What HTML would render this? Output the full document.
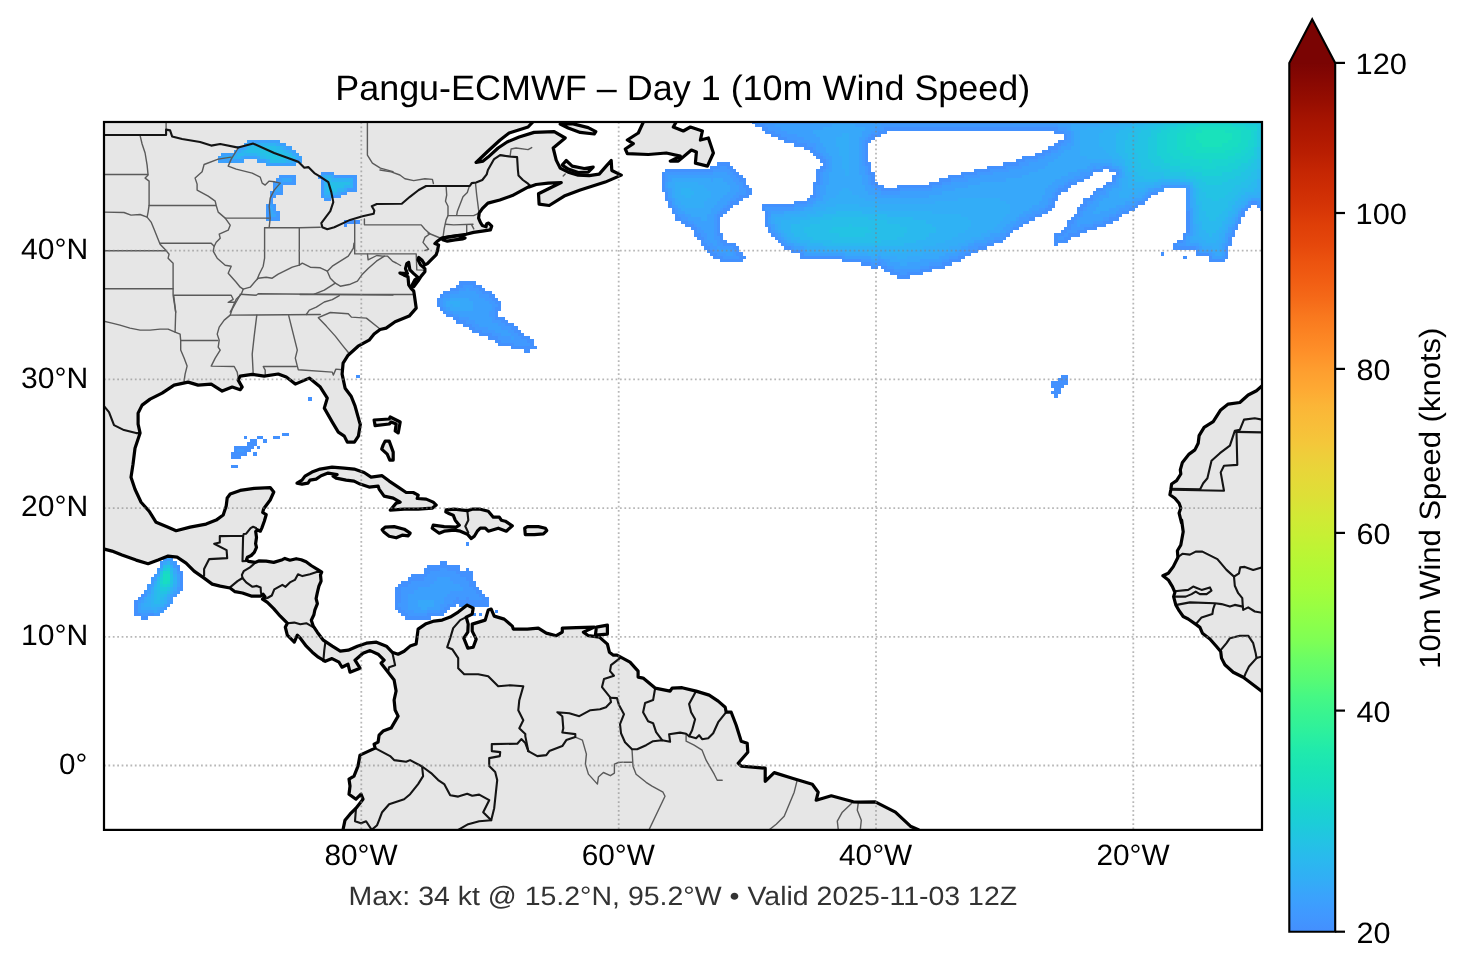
<!DOCTYPE html>
<html><head><meta charset="utf-8"><title>Pangu-ECMWF Day 1 10m Wind Speed</title>
<style>html,body{margin:0;padding:0;background:#fff;}body{width:1466px;height:969px;overflow:hidden;font-family:"Liberation Sans",sans-serif;}svg{display:block;will-change:transform;}text{font-family:"Liberation Sans",sans-serif;text-rendering:geometricPrecision;}</style>
</head><body>
<svg width="1466" height="969" viewBox="0 0 1466 969">
<defs>
<clipPath id="fc"><rect x="104.0" y="122.0" width="1158.0" height="707.9"/></clipPath>
<linearGradient id="cb" x1="0" y1="1" x2="0" y2="0"><stop offset="0.0000" stop-color="#448ffe"/><stop offset="0.0208" stop-color="#4099ff"/><stop offset="0.0417" stop-color="#3aa3fc"/><stop offset="0.0625" stop-color="#31aff5"/><stop offset="0.0833" stop-color="#2ab9ee"/><stop offset="0.1042" stop-color="#23c3e4"/><stop offset="0.1250" stop-color="#1ccdd8"/><stop offset="0.1458" stop-color="#19d5cd"/><stop offset="0.1667" stop-color="#18dec0"/><stop offset="0.1875" stop-color="#1ae4b6"/><stop offset="0.2083" stop-color="#20eaac"/><stop offset="0.2292" stop-color="#2cf09e"/><stop offset="0.2500" stop-color="#38f491"/><stop offset="0.2708" stop-color="#46f884"/><stop offset="0.2917" stop-color="#59fb73"/><stop offset="0.3125" stop-color="#69fd66"/><stop offset="0.3333" stop-color="#7dff56"/><stop offset="0.3542" stop-color="#8bff4b"/><stop offset="0.3750" stop-color="#99fe42"/><stop offset="0.3958" stop-color="#a7fc3a"/><stop offset="0.4167" stop-color="#b1f936"/><stop offset="0.4375" stop-color="#bcf534"/><stop offset="0.4583" stop-color="#c8ef34"/><stop offset="0.4792" stop-color="#d2e935"/><stop offset="0.5000" stop-color="#dde037"/><stop offset="0.5208" stop-color="#e5d938"/><stop offset="0.5417" stop-color="#ecd13a"/><stop offset="0.5625" stop-color="#f4c73a"/><stop offset="0.5833" stop-color="#f8be39"/><stop offset="0.6042" stop-color="#fbb637"/><stop offset="0.6250" stop-color="#fea933"/><stop offset="0.6458" stop-color="#fe9e2f"/><stop offset="0.6667" stop-color="#fe9029"/><stop offset="0.6875" stop-color="#fc8423"/><stop offset="0.7083" stop-color="#f9781e"/><stop offset="0.7292" stop-color="#f56918"/><stop offset="0.7500" stop-color="#f15d13"/><stop offset="0.7708" stop-color="#ec530f"/><stop offset="0.7917" stop-color="#e5470b"/><stop offset="0.8125" stop-color="#df3f08"/><stop offset="0.8333" stop-color="#d63506"/><stop offset="0.8542" stop-color="#ce2d04"/><stop offset="0.8750" stop-color="#c52603"/><stop offset="0.8958" stop-color="#b91e02"/><stop offset="0.9167" stop-color="#af1801"/><stop offset="0.9375" stop-color="#a41301"/><stop offset="0.9583" stop-color="#950d01"/><stop offset="0.9792" stop-color="#880802"/><stop offset="1.0000" stop-color="#7a0403"/></linearGradient>
</defs>
<rect width="1466" height="969" fill="#fff"/>
<g clip-path="url(#fc)">
<g fill="#e6e6e6" stroke="none">
<path d="M99.0,117.0 533.1,117.0 533.1,121.6 528.1,127.0 509.1,133.0 500.1,140.0 488.1,151.0 476.1,162.5 483.1,161.1 488.1,157.1 498.1,148.0 507.1,142.0 519.1,137.0 534.1,132.4 554.2,131.6 565.2,138.0 553.2,148.0 556.2,160.1 560.2,168.1 568.2,172.1 578.2,175.1 589.2,175.7 599.2,174.1 606.2,166.1 611.2,160.5 611.8,170.5 621.3,175.1 605.2,182.1 580.2,190.1 564.2,196.1 549.2,205.5 539.1,204.1 538.5,193.7 561.2,182.5 548.2,183.1 536.1,184.5 529.1,187.1 529.8,186.2 512.3,195.6 499.8,200.0 487.9,203.1 482.3,208.7 479.2,213.1 478.6,218.1 480.4,222.4 482.3,225.5 486.1,226.8 486.7,223.7 488.6,223.1 491.7,226.2 490.4,229.9 482.3,231.2 473.6,232.4 466.1,234.3 457.4,235.5 448.6,236.8 441.7,238.0 437.4,241.2 434.9,243.6 438.6,244.9 437.4,251.1 436.1,254.9 431.1,259.9 427.4,263.6 424.9,264.9 421.8,259.9 418.7,257.4 418.0,259.9 420.5,264.9 424.9,268.6 424.9,271.7 421.2,276.1 418.0,281.1 413.7,286.7 411.2,286.7 414.9,279.8 418.0,277.4 413.7,273.6 409.9,269.9 408.7,262.4 406.8,263.6 405.5,268.6 407.4,273.6 399.9,273.0 403.7,274.9 408.0,276.7 408.7,284.8 411.2,288.6 413.7,291.0 414.2,294.1 416.2,308.1 409.2,316.1 395.1,321.7 386.1,328.1 380.1,329.5 374.1,334.1 369.1,340.2 358.1,346.2 348.1,355.2 343.1,363.2 342.1,374.2 345.1,388.2 351.1,396.2 355.1,406.2 360.1,424.1 360.4,424.1 358.4,436.1 354.4,442.1 347.3,442.1 344.3,436.1 338.3,432.1 332.3,422.1 324.3,408.1 327.3,398.1 320.3,387.1 309.3,378.1 295.3,384.1 286.3,377.1 278.2,374.0 264.2,376.1 252.2,374.4 240.2,376.1 238.2,380.1 242.2,387.1 240.2,389.7 232.2,387.1 222.2,391.1 211.2,384.1 198.1,385.1 188.1,382.1 174.1,385.1 162.1,393.1 150.1,399.1 142.1,405.1 138.1,413.1 138.1,424.1 140.1,433.1 135.0,448.2 133.0,464.2 131.0,477.2 135.0,489.2 141.1,502.2 149.1,511.2 156.1,522.3 168.1,527.3 176.1,530.7 190.1,527.1 206.1,524.1 216.2,520.1 223.2,515.0 226.2,506.0 227.2,498.0 230.2,494.0 240.2,490.4 254.2,488.4 270.2,487.6 273.8,492.0 270.2,500.0 263.7,508.7 262.7,512.5 266.2,514.7 264.3,521.2 261.8,528.1 260.3,531.2 257.2,529.7 255.7,531.5 256.5,537.4 255.6,543.7 256.5,547.4 254.3,552.4 251.2,555.5 247.5,557.2 246.5,559.7 248.7,561.4 255.0,562.4 258.7,560.9 266.2,561.2 273.7,562.4 282.4,559.7 284.9,558.4 289.9,560.2 296.2,558.7 301.2,559.7 306.1,561.8 311.1,565.5 317.4,569.3 321.7,572.2 320.5,574.9 321.1,581.1 318.9,586.1 317.4,592.4 316.1,598.6 317.4,603.6 314.9,609.8 313.9,614.8 311.3,620.2 313.3,626.2 317.3,632.2 323.3,640.2 332.3,646.2 340.3,651.2 348.3,650.2 357.4,646.2 366.4,643.2 376.4,642.2 386.4,646.2 392.1,652.2 398.1,654.2 404.1,651.2 410.1,646.1 416.1,644.1 418.1,629.1 426.1,623.7 434.1,621.1 442.2,620.1 450.2,617.1 458.2,612.1 467.2,605.1 473.2,608.1 472.2,614.1 466.2,617.1 468.2,624.1 467.8,632.1 463.8,638.1 467.8,648.2 473.2,647.2 476.2,639.1 472.2,631.1 472.2,624.1 485.2,620.1 488.2,610.1 491.2,609.1 494.2,616.1 504.2,619.1 512.3,626.1 513.3,629.1 527.3,629.1 538.3,628.1 546.3,633.1 556.3,635.7 562.3,632.1 562.3,628.1 576.3,627.7 594.4,627.1 583.4,632.1 588.4,635.7 599.4,637.1 607.4,644.1 609.4,652.2 613.4,655.2 617.0,655.1 630.0,662.1 638.1,671.1 638.1,677.1 643.1,678.1 655.1,688.1 670.1,691.1 672.1,688.1 682.1,687.7 696.1,691.1 709.2,695.1 718.2,701.1 725.2,707.2 726.2,712.2 731.2,712.2 736.2,725.2 741.2,741.2 747.2,743.2 747.8,752.2 738.2,763.2 741.2,766.2 765.2,768.2 765.2,781.3 774.2,772.6 792.3,778.2 812.3,784.3 818.2,792.2 816.2,800.2 831.3,795.8 853.3,801.8 860.3,802.2 875.3,801.8 895.4,812.2 910.4,826.2 918.4,829.8 918.4,834.9 343.0,834.9 343.0,829.8 345.0,820.2 350.0,814.2 356.0,808.2 363.0,799.2 361.0,794.2 356.0,799.2 349.0,794.2 350.0,786.1 349.0,779.1 354.0,776.1 358.0,766.1 360.0,755.1 375.1,748.1 374.1,744.1 378.1,742.1 379.1,735.1 383.1,731.1 391.1,728.1 398.1,716.1 395.1,710.0 394.1,700.0 396.1,691.0 394.1,680.0 388.1,672.2 381.1,663.2 384.1,660.2 378.1,654.2 370.1,650.6 363.0,653.2 355.0,660.2 360.0,668.2 350.0,672.2 348.0,664.2 342.0,667.2 339.0,662.2 332.0,658.6 325.3,661.3 318.3,657.2 312.3,652.2 306.3,646.2 300.3,638.2 297.3,635.2 294.3,642.2 287.3,635.2 285.3,627.2 287.3,623.2 280.3,616.2 273.7,608.6 267.4,602.4 262.5,599.2 265.0,596.7 263.1,594.2 260.6,596.1 251.2,596.1 242.5,593.0 235.0,591.7 230.0,588.0 220.2,586.1 212.2,584.1 204.1,578.1 194.1,571.1 186.1,563.1 177.1,557.1 168.1,556.1 158.1,560.1 148.1,563.7 136.1,560.1 122.0,555.1 112.0,551.1 104.4,549.1 99.0,549.1Z"/>
<path d="M644.3,120.0 638.3,133.0 627.3,140.0 633.3,143.6 625.3,149.0 627.3,153.6 648.3,154.5 666.3,153.0 680.3,156.1 670.3,161.1 678.3,161.1 691.4,150.0 696.4,152.0 695.4,163.1 707.4,166.1 713.4,153.0 708.4,138.0 700.4,140.0 702.4,131.0 690.4,127.0 683.3,131.0 673.3,127.0 677.3,120.0Z"/>
<path d="M560.2,124.0 572.2,123.6 588.2,127.6 595.8,131.6 594.2,134.0 580.2,132.4 568.2,128.0Z"/>
<path d="M562.2,165.1 566.2,160.5 572.2,166.1 584.2,168.5 593.2,167.1 588.2,172.1 578.2,172.5 568.2,169.1Z"/>
<path d="M442.1,238.4 449.9,236.8 458.6,235.7 465.1,238.0 463.0,238.9 454.9,239.9 447.4,241.2 442.6,239.7Z"/>
<path d="M297.0,483.1 302.0,480.1 305.0,476.1 312.0,472.1 320.1,469.1 332.1,467.1 344.1,468.1 354.1,469.1 364.1,472.5 371.1,477.1 382.1,475.7 389.2,481.1 398.2,487.1 406.2,492.5 413.2,492.5 418.2,495.1 417.2,498.5 426.2,499.1 433.2,502.1 436.2,505.1 432.2,508.2 418.2,509.2 404.2,509.2 390.2,510.2 396.2,503.1 400.2,502.1 393.2,498.1 384.1,496.1 379.1,489.1 378.1,486.1 369.1,487.1 360.1,484.1 354.1,481.1 346.1,480.1 336.1,478.1 333.1,476.1 337.1,474.5 328.1,473.1 321.1,475.7 316.1,479.1 310.0,480.1 308.0,483.1 302.0,484.1Z"/>
<path d="M374.1,420.0 389.2,419.0 390.2,417.0 400.2,422.0 398.2,433.0 395.2,431.0 396.2,424.0 391.2,422.0 389.2,424.0 375.1,425.6Z"/>
<path d="M385.1,441.1 389.2,441.1 393.2,452.1 393.2,460.1 389.8,460.1 387.2,454.1 381.7,449.1 383.1,445.1Z"/>
<path d="M382.1,529.8 385.1,527.2 394.2,526.6 404.2,529.2 410.2,533.2 408.2,535.8 402.2,535.2 396.2,537.8 389.2,536.2 384.1,532.2Z"/>
<path d="M446.2,509.8 454.2,509.2 467.3,510.6 472.3,509.2 480.3,509.2 488.3,511.2 493.3,517.2 499.3,517.2 501.3,520.2 505.3,521.2 512.3,525.8 506.3,531.2 498.3,528.2 488.3,531.2 485.3,528.2 480.3,528.2 477.3,531.2 474.3,536.2 471.3,538.6 467.3,534.2 460.3,531.2 454.2,530.2 444.2,531.2 439.2,533.2 432.2,528.2 433.2,525.2 444.2,526.6 456.2,527.2 459.3,525.2 455.2,520.2 453.2,515.2 448.2,513.2 445.8,511.8Z"/>
<path d="M524.7,528.2 527.3,526.6 538.4,526.6 545.4,528.2 546.8,530.6 543.4,533.8 534.4,534.6 525.3,534.6Z"/>
<path d="M596.4,627.1 607.4,625.1 607.4,634.1 595.4,635.1Z"/>
<path d="M1263.1,385.0 1256.5,390.8 1248.2,395.0 1239.8,402.5 1228.2,404.1 1220.7,409.9 1213.2,421.6 1204.1,427.4 1199.1,435.7 1198.2,443.2 1194.9,449.9 1189.1,454.1 1182.4,462.4 1180.3,469.9 1180.8,474.0 1176.6,480.7 1171.6,484.0 1170.8,489.8 1169.9,494.8 1174.9,498.2 1179.1,503.2 1180.8,508.1 1179.1,513.1 1181.6,523.1 1181.6,520.0 1183.2,531.7 1180.8,545.0 1177.4,550.8 1177.9,557.5 1173.3,566.6 1168.3,573.3 1162.9,575.8 1168.3,579.9 1172.4,586.6 1174.9,592.4 1173.6,596.6 1175.8,604.9 1179.1,610.7 1183.2,616.5 1188.2,619.0 1196.6,624.9 1199.9,627.4 1202.4,633.2 1209.9,639.0 1216.5,646.5 1220.7,651.5 1221.5,658.1 1224.9,664.8 1233.2,672.3 1243.2,677.3 1248.2,681.0 1263.1,692.3 1267.0,692.3 1267.0,385.0Z"/>
</g>
<g stroke="none" shape-rendering="crispEdges">
<path fill="#4391fe" d="M748.8,114.1H1270.2V120.8H748.8ZM752.0,120.5H1270.2V124.0H752.0ZM755.2,123.7H1270.2V127.2H755.2ZM761.7,126.9H1270.2V130.5H761.7ZM764.9,130.2H887.4V133.7H764.9ZM1054.4,130.2H1270.2V133.7H1054.4ZM771.3,133.4H881.0V136.9H771.3ZM777.7,136.6H874.5V140.1H777.7ZM1064.0,133.4H1270.2V140.1H1064.0ZM247.0,139.8H279.5V143.3H247.0ZM784.2,139.8H871.3V143.3H784.2ZM1057.6,139.8H1270.2V143.3H1057.6ZM243.8,143.0H285.9V146.6H243.8ZM793.8,143.0H868.1V146.6H793.8ZM1054.4,143.0H1270.2V146.6H1054.4ZM237.3,146.3H292.3V149.8H237.3ZM803.5,146.3H868.1V149.8H803.5ZM1047.9,146.3H1270.2V149.8H1047.9ZM234.1,149.5H295.5V153.0H234.1ZM809.9,149.5H868.1V153.0H809.9ZM1041.5,149.5H1270.2V153.0H1041.5ZM221.3,152.7H298.8V156.2H221.3ZM813.1,152.7H868.1V156.2H813.1ZM1035.1,152.7H1270.2V156.2H1035.1ZM218.0,155.9H302.0V159.4H218.0ZM816.3,155.9H868.1V159.4H816.3ZM1022.2,155.9H1270.2V159.4H1022.2ZM218.0,159.1H244.1V162.6H218.0ZM256.6,159.1H302.0V162.6H256.6ZM819.6,159.1H868.1V162.6H819.6ZM1015.8,159.1H1270.2V162.6H1015.8ZM266.3,162.3H295.5V165.9H266.3ZM716.6,162.3H729.8V165.9H716.6ZM822.8,162.3H871.3V165.9H822.8ZM1002.9,162.3H1270.2V165.9H1002.9ZM710.2,165.6H733.0V169.1H710.2ZM819.6,165.6H871.3V169.1H819.6ZM986.8,165.6H1270.2V169.1H986.8ZM665.2,168.8H736.2V172.3H665.2ZM816.3,168.8H871.3V172.3H816.3ZM974.0,168.8H1102.9V172.3H974.0ZM1109.1,168.8H1270.2V172.3H1109.1ZM321.0,172.0H334.1V175.5H321.0ZM661.9,172.0H739.4V175.5H661.9ZM961.1,172.0H1093.3V175.5H961.1ZM1115.5,172.0H1270.2V175.5H1115.5ZM279.2,175.2H295.5V178.7H279.2ZM317.8,175.2H356.7V178.7H317.8ZM661.9,175.2H742.7V178.7H661.9ZM948.2,175.2H1090.1V178.7H948.2ZM275.9,178.4H295.5V181.9H275.9ZM816.3,172.0H874.5V181.9H816.3ZM938.6,178.4H1083.6V181.9H938.6ZM1112.3,175.2H1270.2V181.9H1112.3ZM272.7,181.6H295.5V185.2H272.7ZM661.9,178.4H745.9V185.2H661.9ZM813.1,181.6H877.8V185.2H813.1ZM928.9,181.6H1077.2V185.2H928.9ZM1105.8,181.6H1270.2V185.2H1105.8ZM661.9,184.9H749.1V188.4H661.9ZM813.1,184.9H884.2V188.4H813.1ZM896.8,184.9H1070.8V188.4H896.8ZM1102.6,184.9H1270.2V188.4H1102.6ZM272.7,184.9H282.7V191.6H272.7ZM321.0,178.4H356.7V191.6H321.0ZM661.9,188.1H752.3V191.6H661.9ZM813.1,188.1H1067.5V191.6H813.1ZM1096.2,188.1H1164.0V191.6H1096.2ZM269.5,191.3H282.7V194.8H269.5ZM321.0,191.3H347.0V194.8H321.0ZM665.2,191.3H752.3V194.8H665.2ZM813.1,191.3H1061.1V194.8H813.1ZM1093.0,191.3H1157.6V194.8H1093.0ZM269.5,194.5H276.2V198.0H269.5ZM321.0,194.5H340.6V198.0H321.0ZM665.2,194.5H749.1V198.0H665.2ZM809.9,194.5H1057.9V198.0H809.9ZM1089.8,194.5H1151.2V198.0H1089.8ZM324.2,197.7H330.9V201.3H324.2ZM665.2,197.7H742.7V201.3H665.2ZM806.7,197.7H1057.9V201.3H806.7ZM1083.3,197.7H1148.0V201.3H1083.3ZM269.5,197.7H273.0V204.5H269.5ZM668.4,201.0H739.4V204.5H668.4ZM793.8,201.0H1054.7V204.5H793.8ZM1083.3,201.0H1144.7V204.5H1083.3ZM1186.3,188.1H1270.2V204.5H1186.3ZM668.4,204.2H733.0V207.7H668.4ZM761.7,204.2H1054.7V207.7H761.7ZM1080.1,204.2H1138.3V207.7H1080.1ZM1186.3,204.2H1250.9V207.7H1186.3ZM1257.0,204.2H1270.2V207.7H1257.0ZM266.3,204.2H276.2V210.9H266.3ZM671.6,207.4H729.8V210.9H671.6ZM761.7,207.4H1051.5V210.9H761.7ZM1076.9,207.4H1135.1V210.9H1076.9ZM1186.3,207.4H1247.7V210.9H1186.3ZM1260.2,207.4H1270.2V210.9H1260.2ZM671.6,210.6H726.6V214.1H671.6ZM764.9,210.6H1048.2V214.1H764.9ZM1076.9,210.6H1128.7V214.1H1076.9ZM674.8,213.8H723.4V217.3H674.8ZM764.9,213.8H1041.8V217.3H764.9ZM1073.7,213.8H1122.2V217.3H1073.7ZM1186.3,210.6H1244.5V217.3H1186.3ZM266.3,210.6H279.5V220.6H266.3ZM674.8,217.0H720.1V220.6H674.8ZM764.9,217.0H1035.4V220.6H764.9ZM1070.5,217.0H1119.0V220.6H1070.5ZM343.5,220.3H359.9V223.8H343.5ZM681.2,220.3H720.1V223.8H681.2ZM764.9,220.3H1028.9V223.8H764.9ZM1067.2,220.3H1112.6V223.8H1067.2ZM1186.3,217.0H1241.2V223.8H1186.3ZM343.5,223.5H347.0V227.0H343.5ZM684.5,223.5H720.1V227.0H684.5ZM764.9,223.5H1022.5V227.0H764.9ZM1067.2,223.5H1106.1V227.0H1067.2ZM690.9,226.7H720.1V230.2H690.9ZM768.1,226.7H1019.3V230.2H768.1ZM1064.0,226.7H1096.5V230.2H1064.0ZM1186.3,223.5H1238.0V230.2H1186.3ZM694.1,229.9H720.1V233.4H694.1ZM768.1,229.9H1012.9V233.4H768.1ZM1060.8,229.9H1086.8V233.4H1060.8ZM1186.3,229.9H1234.8V233.4H1186.3ZM694.1,233.1H723.4V236.7H694.1ZM771.3,233.1H1009.6V236.7H771.3ZM1054.4,233.1H1080.4V236.7H1054.4ZM1183.0,233.1H1234.8V236.7H1183.0ZM697.3,236.4H723.4V239.9H697.3ZM774.5,236.4H1006.4V239.9H774.5ZM1054.4,236.4H1070.8V239.9H1054.4ZM1183.0,236.4H1231.6V239.9H1183.0ZM700.5,239.6H726.6V243.1H700.5ZM777.7,239.6H1003.2V243.1H777.7ZM1054.4,239.6H1067.5V243.1H1054.4ZM1176.6,239.6H1231.6V243.1H1176.6ZM700.5,242.8H736.2V246.3H700.5ZM781.0,242.8H993.6V246.3H781.0ZM1054.4,242.8H1057.9V246.3H1054.4ZM1173.4,242.8H1231.6V246.3H1173.4ZM703.8,246.0H739.4V249.5H703.8ZM784.2,246.0H987.1V249.5H784.2ZM1173.4,246.0H1228.4V249.5H1173.4ZM707.0,249.2H739.4V252.7H707.0ZM790.6,249.2H977.5V252.7H790.6ZM710.2,252.4H742.7V256.0H710.2ZM800.3,252.4H971.0V256.0H800.3ZM1160.5,252.4H1164.0V256.0H1160.5ZM1195.9,249.2H1228.4V256.0H1195.9ZM713.4,255.7H745.9V259.2H713.4ZM800.3,255.7H964.6V259.2H800.3ZM1183.0,255.7H1186.6V259.2H1183.0ZM1208.8,255.7H1228.4V259.2H1208.8ZM719.8,258.9H742.7V262.4H719.8ZM842.1,258.9H961.4V262.4H842.1ZM1208.8,258.9H1225.2V262.4H1208.8ZM861.4,262.1H951.7V265.6H861.4ZM871.0,265.3H877.8V268.8H871.0ZM880.7,265.3H945.3V268.8H880.7ZM883.9,268.5H932.4V272.0H883.9ZM890.3,271.7H922.8V275.3H890.3ZM896.8,275.0H909.9V278.5H896.8ZM459.3,281.4H475.7V284.9H459.3ZM456.1,284.6H482.1V288.1H456.1ZM449.6,287.8H485.3V291.4H449.6ZM443.2,291.1H491.8V294.6H443.2ZM440.0,294.3H495.0V297.8H440.0ZM436.8,297.5H498.2V301.0H436.8ZM436.8,300.7H501.4V307.4H436.8ZM440.0,307.1H501.4V310.7H440.0ZM443.2,310.4H498.2V313.9H443.2ZM446.4,313.6H498.2V317.1H446.4ZM452.9,316.8H504.6V320.3H452.9ZM456.1,320.0H507.8V323.5H456.1ZM462.5,323.2H514.3V326.7H462.5ZM468.9,326.4H517.5V330.0H468.9ZM472.2,329.7H520.7V333.2H472.2ZM478.6,332.9H523.9V336.4H478.6ZM488.2,336.1H530.4V339.6H488.2ZM494.7,339.3H533.6V342.8H494.7ZM497.9,342.5H533.6V346.1H497.9ZM510.8,345.8H536.8V349.3H510.8ZM523.6,349.0H530.4V352.5H523.6ZM356.4,374.7H359.9V378.2H356.4ZM1060.8,374.7H1067.5V378.2H1060.8ZM1057.6,377.9H1067.5V381.4H1057.6ZM1051.2,381.1H1067.5V384.7H1051.2ZM1051.2,384.4H1064.3V387.9H1051.2ZM1054.4,387.6H1061.1V391.1H1054.4ZM1051.2,390.8H1061.1V394.3H1051.2ZM1054.4,394.0H1057.9V397.5H1054.4ZM308.1,397.2H311.6V400.8H308.1ZM282.4,432.6H289.1V436.2H282.4ZM243.8,435.9H247.3V439.4H243.8ZM256.6,435.9H263.4V439.4H256.6ZM272.7,435.9H279.5V439.4H272.7ZM250.2,439.1H256.9V442.6H250.2ZM263.1,439.1H266.6V442.6H263.1ZM247.0,442.3H256.9V445.8H247.0ZM234.1,445.5H253.7V449.0H234.1ZM256.6,445.5H260.2V449.0H256.6ZM234.1,448.7H250.5V452.2H234.1ZM230.9,451.9H247.3V455.5H230.9ZM253.4,451.9H256.9V455.5H253.4ZM230.9,455.2H240.9V458.7H230.9ZM230.9,464.8H237.6V468.3H230.9ZM465.7,542.0H469.2V545.6H465.7ZM166.6,554.9H170.1V558.4H166.6ZM163.4,558.1H173.3V561.6H163.4ZM160.1,561.3H176.5V564.9H160.1ZM440.0,561.3H446.7V564.9H440.0ZM160.1,564.6H179.7V568.1H160.1ZM427.1,564.6H459.6V568.1H427.1ZM156.9,567.8H179.7V571.3H156.9ZM423.9,567.8H459.6V571.3H423.9ZM465.7,567.8H469.2V571.3H465.7ZM156.9,571.0H183.0V574.5H156.9ZM423.9,571.0H472.5V574.5H423.9ZM153.7,574.2H183.0V577.7H153.7ZM411.0,574.2H472.5V577.7H411.0ZM407.8,577.4H472.5V580.9H407.8ZM150.5,577.4H183.0V584.2H150.5ZM401.4,580.6H475.7V584.2H401.4ZM398.2,583.9H475.7V587.4H398.2ZM147.3,583.9H183.0V590.6H147.3ZM395.0,587.1H478.9V590.6H395.0ZM144.1,590.3H179.7V593.8H144.1ZM395.0,590.3H482.1V593.8H395.0ZM140.8,593.5H176.5V597.0H140.8ZM395.0,593.5H485.3V597.0H395.0ZM137.6,596.7H173.3V600.3H137.6ZM134.4,600.0H173.3V603.5H134.4ZM395.0,596.7H488.5V603.5H395.0ZM134.4,603.2H170.1V606.7H134.4ZM395.0,603.2H456.4V606.7H395.0ZM459.3,603.2H466.0V606.7H459.3ZM468.9,603.2H488.5V606.7H468.9ZM134.4,606.4H166.9V609.9H134.4ZM395.0,606.4H449.9V609.9H395.0ZM134.4,609.6H163.7V613.1H134.4ZM398.2,609.6H446.7V613.1H398.2ZM494.7,609.6H498.2V613.1H494.7ZM134.4,612.8H160.4V616.3H134.4ZM401.4,612.8H443.5V616.3H401.4ZM472.2,612.8H475.7V616.3H472.2ZM478.6,612.8H482.1V616.3H478.6ZM140.8,616.0H147.6V619.6H140.8ZM404.6,616.0H430.6V619.6H404.6Z"/>
<path fill="#4099ff" d="M1121.9,114.1H1270.2V117.6H1121.9ZM755.2,117.3H1270.2V120.8H755.2ZM758.4,120.5H1270.2V124.0H758.4ZM764.9,123.7H1270.2V127.2H764.9ZM768.1,126.9H884.2V130.5H768.1ZM1057.6,126.9H1270.2V130.5H1057.6ZM774.5,130.2H877.8V133.7H774.5ZM1064.0,130.2H1270.2V133.7H1064.0ZM781.0,133.4H871.3V136.9H781.0ZM787.4,136.6H868.1V140.1H787.4ZM1067.2,133.4H1270.2V140.1H1067.2ZM247.0,139.8H279.5V143.3H247.0ZM797.0,139.8H864.9V143.3H797.0ZM1064.0,139.8H1270.2V143.3H1064.0ZM243.8,143.0H285.9V146.6H243.8ZM806.7,143.0H864.9V146.6H806.7ZM1060.8,143.0H1270.2V146.6H1060.8ZM237.3,146.3H292.3V149.8H237.3ZM813.1,146.3H864.9V149.8H813.1ZM1057.6,146.3H1270.2V149.8H1057.6ZM234.1,149.5H295.5V153.0H234.1ZM816.3,149.5H864.9V153.0H816.3ZM1051.2,149.5H1270.2V153.0H1051.2ZM221.3,152.7H298.8V156.2H221.3ZM819.6,152.7H864.9V156.2H819.6ZM1044.7,152.7H1270.2V156.2H1044.7ZM218.0,155.9H302.0V159.4H218.0ZM822.8,155.9H864.9V159.4H822.8ZM1038.3,155.9H1270.2V159.4H1038.3ZM218.0,159.1H244.1V162.6H218.0ZM256.6,159.1H302.0V162.6H256.6ZM1025.4,159.1H1270.2V162.6H1025.4ZM266.3,162.3H295.5V165.9H266.3ZM826.0,159.1H864.9V165.9H826.0ZM1019.0,162.3H1270.2V165.9H1019.0ZM719.8,165.6H726.6V169.1H719.8ZM826.0,165.6H868.1V169.1H826.0ZM1006.1,165.6H1102.9V169.1H1006.1ZM1109.1,165.6H1270.2V169.1H1109.1ZM713.4,168.8H729.8V172.3H713.4ZM822.8,168.8H868.1V172.3H822.8ZM990.0,168.8H1093.3V172.3H990.0ZM1115.5,168.8H1270.2V172.3H1115.5ZM321.0,172.0H334.1V175.5H321.0ZM665.2,172.0H733.0V175.5H665.2ZM819.6,172.0H868.1V175.5H819.6ZM977.2,172.0H1090.1V175.5H977.2ZM1118.7,172.0H1270.2V175.5H1118.7ZM279.2,175.2H295.5V178.7H279.2ZM317.8,175.2H356.7V178.7H317.8ZM665.2,175.2H736.2V178.7H665.2ZM964.3,175.2H1083.6V178.7H964.3ZM275.9,178.4H295.5V181.9H275.9ZM665.2,178.4H739.4V181.9H665.2ZM951.4,178.4H1077.2V181.9H951.4ZM1115.5,175.2H1270.2V181.9H1115.5ZM272.7,181.6H295.5V185.2H272.7ZM819.6,175.2H871.3V185.2H819.6ZM941.8,181.6H1067.5V185.2H941.8ZM1112.3,181.6H1270.2V185.2H1112.3ZM665.2,181.6H742.7V188.4H665.2ZM816.3,184.9H874.5V188.4H816.3ZM932.1,184.9H1064.3V188.4H932.1ZM1105.8,184.9H1267.0V188.4H1105.8ZM272.7,184.9H282.7V191.6H272.7ZM321.0,178.4H356.7V191.6H321.0ZM665.2,188.1H745.9V191.6H665.2ZM816.3,188.1H881.0V191.6H816.3ZM900.0,188.1H1057.9V191.6H900.0ZM1102.6,188.1H1164.0V191.6H1102.6ZM269.5,191.3H282.7V194.8H269.5ZM321.0,191.3H347.0V194.8H321.0ZM668.4,191.3H745.9V194.8H668.4ZM1096.2,191.3H1151.2V194.8H1096.2ZM269.5,194.5H276.2V198.0H269.5ZM321.0,194.5H340.6V198.0H321.0ZM668.4,194.5H739.4V198.0H668.4ZM816.3,191.3H1054.7V198.0H816.3ZM1093.0,194.5H1148.0V198.0H1093.0ZM324.2,197.7H330.9V201.3H324.2ZM668.4,197.7H736.2V201.3H668.4ZM809.9,197.7H1051.5V201.3H809.9ZM1093.0,197.7H1144.7V201.3H1093.0ZM1186.3,188.1H1267.0V201.3H1186.3ZM269.5,197.7H273.0V204.5H269.5ZM671.6,201.0H729.8V204.5H671.6ZM806.7,201.0H1051.5V204.5H806.7ZM1086.5,201.0H1138.3V204.5H1086.5ZM1186.3,201.0H1250.9V204.5H1186.3ZM1257.0,201.0H1267.0V204.5H1257.0ZM671.6,204.2H726.6V207.7H671.6ZM793.8,204.2H1048.2V207.7H793.8ZM1086.5,204.2H1135.1V207.7H1086.5ZM1186.3,204.2H1247.7V207.7H1186.3ZM1260.2,204.2H1267.0V207.7H1260.2ZM266.3,204.2H276.2V210.9H266.3ZM674.8,207.4H723.4V210.9H674.8ZM764.9,207.4H1045.0V210.9H764.9ZM1083.3,207.4H1128.7V210.9H1083.3ZM1186.3,207.4H1244.5V210.9H1186.3ZM674.8,210.6H720.1V214.1H674.8ZM768.1,210.6H1041.8V214.1H768.1ZM1080.1,210.6H1122.2V214.1H1080.1ZM678.0,213.8H716.9V217.3H678.0ZM768.1,213.8H1035.4V217.3H768.1ZM1080.1,213.8H1115.8V217.3H1080.1ZM1189.5,210.6H1241.2V217.3H1189.5ZM266.3,210.6H279.5V220.6H266.3ZM681.2,217.0H716.9V220.6H681.2ZM768.1,217.0H1028.9V220.6H768.1ZM1076.9,217.0H1109.4V220.6H1076.9ZM687.7,220.3H716.9V223.8H687.7ZM768.1,220.3H1022.5V223.8H768.1ZM1073.7,220.3H1102.9V223.8H1073.7ZM1189.5,217.0H1238.0V223.8H1189.5ZM694.1,223.5H716.9V227.0H694.1ZM768.1,223.5H1019.3V227.0H768.1ZM1070.5,223.5H1093.3V227.0H1070.5ZM771.3,226.7H1012.9V230.2H771.3ZM1070.5,226.7H1083.6V230.2H1070.5ZM1189.5,223.5H1234.8V230.2H1189.5ZM697.3,226.7H716.9V233.4H697.3ZM771.3,229.9H1009.6V233.4H771.3ZM1067.2,229.9H1077.2V233.4H1067.2ZM1189.5,229.9H1231.6V233.4H1189.5ZM700.5,233.1H716.9V236.7H700.5ZM774.5,233.1H1006.4V236.7H774.5ZM1064.0,233.1H1067.5V236.7H1064.0ZM1186.3,233.1H1231.6V236.7H1186.3ZM777.7,236.4H1003.2V239.9H777.7ZM1057.6,236.4H1064.3V239.9H1057.6ZM1186.3,236.4H1228.4V239.9H1186.3ZM703.8,236.4H720.1V243.1H703.8ZM781.0,239.6H993.6V243.1H781.0ZM1183.0,239.6H1228.4V243.1H1183.0ZM707.0,242.8H723.4V246.3H707.0ZM784.2,242.8H987.1V246.3H784.2ZM1176.6,242.8H1228.4V246.3H1176.6ZM710.2,246.0H733.0V249.5H710.2ZM790.6,246.0H977.5V249.5H790.6ZM1195.9,246.0H1225.2V249.5H1195.9ZM713.4,249.2H736.2V252.7H713.4ZM800.3,249.2H971.0V252.7H800.3ZM1199.1,249.2H1225.2V252.7H1199.1ZM716.6,252.4H736.2V256.0H716.6ZM803.5,252.4H964.6V256.0H803.5ZM1208.8,252.4H1225.2V256.0H1208.8ZM723.1,255.7H739.4V259.2H723.1ZM842.1,255.7H958.2V259.2H842.1ZM1212.0,255.7H1225.2V259.2H1212.0ZM861.4,258.9H948.5V262.4H861.4ZM871.0,262.1H877.8V265.6H871.0ZM880.7,262.1H942.1V265.6H880.7ZM887.1,265.3H929.2V268.8H887.1ZM893.5,268.5H919.6V272.0H893.5ZM900.0,271.7H906.7V275.3H900.0ZM462.5,284.6H472.5V288.1H462.5ZM459.3,287.8H478.9V291.4H459.3ZM449.6,291.1H482.1V294.6H449.6ZM443.2,294.3H488.5V297.8H443.2ZM440.0,297.5H491.8V301.0H440.0ZM440.0,300.7H495.0V304.2H440.0ZM440.0,303.9H498.2V307.4H440.0ZM443.2,307.1H495.0V310.7H443.2ZM446.4,310.4H495.0V313.9H446.4ZM452.9,313.6H495.0V317.1H452.9ZM459.3,316.8H495.0V320.3H459.3ZM465.7,320.0H501.4V323.5H465.7ZM472.2,323.2H504.6V326.7H472.2ZM475.4,326.4H511.1V330.0H475.4ZM481.8,329.7H514.3V333.2H481.8ZM491.5,332.9H517.5V336.4H491.5ZM497.9,336.1H520.7V339.6H497.9ZM501.1,339.3H527.1V342.8H501.1ZM514.0,342.5H530.4V346.1H514.0ZM237.3,448.7H244.1V452.2H237.3ZM166.6,554.9H170.1V558.4H166.6ZM163.4,558.1H173.3V561.6H163.4ZM160.1,561.3H176.5V568.1H160.1ZM156.9,567.8H176.5V571.3H156.9ZM440.0,567.8H446.7V571.3H440.0ZM156.9,571.0H179.7V574.5H156.9ZM430.3,571.0H456.4V574.5H430.3ZM153.7,574.2H179.7V577.7H153.7ZM427.1,574.2H459.6V577.7H427.1ZM423.9,577.4H466.0V580.9H423.9ZM150.5,577.4H179.7V584.2H150.5ZM411.0,580.6H469.2V584.2H411.0ZM407.8,583.9H469.2V587.4H407.8ZM147.3,583.9H179.7V590.6H147.3ZM401.4,587.1H472.5V590.6H401.4ZM144.1,590.3H179.7V593.8H144.1ZM401.4,590.3H475.7V593.8H401.4ZM144.1,593.5H176.5V597.0H144.1ZM401.4,593.5H478.9V597.0H401.4ZM140.8,596.7H173.3V600.3H140.8ZM401.4,596.7H456.4V600.3H401.4ZM459.3,596.7H466.0V600.3H459.3ZM468.9,596.7H482.1V600.3H468.9ZM137.6,600.0H173.3V603.5H137.6ZM401.4,600.0H453.2V603.5H401.4ZM137.6,603.2H170.1V606.7H137.6ZM398.2,603.2H446.7V606.7H398.2ZM137.6,606.4H166.9V609.9H137.6ZM401.4,606.4H443.5V609.9H401.4ZM137.6,609.6H163.7V613.1H137.6ZM404.6,609.6H440.3V613.1H404.6ZM140.8,612.8H147.6V616.3H140.8ZM153.7,612.8H160.4V616.3H153.7ZM407.8,612.8H427.4V616.3H407.8Z"/>
<path fill="#3ba0fd" d="M1176.6,114.1H1257.3V117.6H1176.6ZM1089.8,117.3H1267.0V120.8H1089.8ZM813.1,120.5H877.8V124.0H813.1ZM1012.6,120.5H1267.0V124.0H1012.6ZM774.5,123.7H881.0V127.2H774.5ZM1057.6,123.7H1267.0V127.2H1057.6ZM781.0,126.9H874.5V130.5H781.0ZM1067.2,126.9H1267.0V130.5H1067.2ZM787.4,130.2H871.3V133.7H787.4ZM797.0,133.4H868.1V136.9H797.0ZM803.5,136.6H864.9V140.1H803.5ZM247.0,139.8H279.5V143.3H247.0ZM809.9,139.8H861.7V143.3H809.9ZM1070.5,130.2H1267.0V143.3H1070.5ZM243.8,143.0H285.9V146.6H243.8ZM1067.2,143.0H1267.0V146.6H1067.2ZM237.3,146.3H292.3V149.8H237.3ZM816.3,143.0H861.7V149.8H816.3ZM1060.8,146.3H1267.0V149.8H1060.8ZM234.1,149.5H295.5V153.0H234.1ZM819.6,149.5H861.7V153.0H819.6ZM1057.6,149.5H1267.0V153.0H1057.6ZM221.3,152.7H298.8V156.2H221.3ZM822.8,152.7H861.7V156.2H822.8ZM1051.2,152.7H1267.0V156.2H1051.2ZM218.0,155.9H302.0V159.4H218.0ZM826.0,155.9H861.7V159.4H826.0ZM1044.7,155.9H1267.0V159.4H1044.7ZM218.0,159.1H244.1V162.6H218.0ZM256.6,159.1H302.0V162.6H256.6ZM1038.3,159.1H1267.0V162.6H1038.3ZM266.3,162.3H295.5V165.9H266.3ZM829.2,159.1H861.7V165.9H829.2ZM1028.6,162.3H1267.0V165.9H1028.6ZM829.2,165.6H864.9V169.1H829.2ZM1022.2,165.6H1093.3V169.1H1022.2ZM1096.2,165.6H1099.7V169.1H1096.2ZM1112.3,165.6H1267.0V169.1H1112.3ZM826.0,168.8H864.9V172.3H826.0ZM1009.3,168.8H1090.1V172.3H1009.3ZM713.4,172.0H726.6V175.5H713.4ZM822.8,172.0H864.9V175.5H822.8ZM993.3,172.0H1080.4V175.5H993.3ZM321.0,175.2H334.1V178.7H321.0ZM668.4,175.2H729.8V178.7H668.4ZM980.4,175.2H1074.0V178.7H980.4ZM1118.7,168.8H1267.0V178.7H1118.7ZM279.2,178.4H292.3V181.9H279.2ZM668.4,178.4H733.0V181.9H668.4ZM967.5,178.4H1067.5V181.9H967.5ZM275.9,181.6H282.7V185.2H275.9ZM665.2,181.6H736.2V185.2H665.2ZM822.8,175.2H868.1V185.2H822.8ZM951.4,181.6H1064.3V185.2H951.4ZM1115.5,178.4H1267.0V185.2H1115.5ZM324.2,178.4H353.4V188.4H324.2ZM665.2,184.9H739.4V188.4H665.2ZM819.6,184.9H871.3V188.4H819.6ZM941.8,184.9H1057.9V188.4H941.8ZM1112.3,184.9H1160.8V188.4H1112.3ZM1186.3,184.9H1267.0V188.4H1186.3ZM275.9,184.9H279.5V191.6H275.9ZM324.2,188.1H347.0V191.6H324.2ZM668.4,188.1H739.4V191.6H668.4ZM819.6,188.1H874.5V191.6H819.6ZM932.1,188.1H1054.7V191.6H932.1ZM1105.8,188.1H1154.4V191.6H1105.8ZM272.7,191.3H276.2V194.8H272.7ZM324.2,191.3H340.6V194.8H324.2ZM668.4,191.3H736.2V194.8H668.4ZM819.6,191.3H881.0V194.8H819.6ZM900.0,191.3H1051.5V194.8H900.0ZM1105.8,191.3H1148.0V194.8H1105.8ZM324.2,194.5H330.9V198.0H324.2ZM668.4,194.5H733.0V198.0H668.4ZM819.6,194.5H1051.5V198.0H819.6ZM1099.4,194.5H1144.7V198.0H1099.4ZM671.6,197.7H729.8V201.3H671.6ZM816.3,197.7H1048.2V201.3H816.3ZM1096.2,197.7H1141.5V201.3H1096.2ZM1189.5,188.1H1267.0V201.3H1189.5ZM671.6,201.0H726.6V204.5H671.6ZM813.1,201.0H1048.2V204.5H813.1ZM1093.0,201.0H1135.1V204.5H1093.0ZM1189.5,201.0H1247.7V204.5H1189.5ZM1260.2,201.0H1267.0V204.5H1260.2ZM674.8,204.2H723.4V207.7H674.8ZM806.7,204.2H1045.0V207.7H806.7ZM1089.8,204.2H1125.4V207.7H1089.8ZM1189.5,204.2H1244.5V207.7H1189.5ZM1263.5,204.2H1267.0V207.7H1263.5ZM269.5,204.2H273.0V210.9H269.5ZM678.0,207.4H720.1V210.9H678.0ZM793.8,207.4H1038.6V210.9H793.8ZM1086.5,207.4H1119.0V210.9H1086.5ZM678.0,210.6H716.9V214.1H678.0ZM771.3,210.6H1032.2V214.1H771.3ZM1083.3,210.6H1115.8V214.1H1083.3ZM1189.5,207.4H1241.2V214.1H1189.5ZM269.5,210.6H276.2V217.3H269.5ZM684.5,213.8H713.7V217.3H684.5ZM771.3,213.8H1025.7V217.3H771.3ZM1083.3,213.8H1109.4V217.3H1083.3ZM687.7,217.0H713.7V220.6H687.7ZM768.1,217.0H1019.3V220.6H768.1ZM1080.1,217.0H1102.9V220.6H1080.1ZM1189.5,213.8H1238.0V220.6H1189.5ZM694.1,220.3H713.7V223.8H694.1ZM768.1,220.3H1016.1V223.8H768.1ZM1076.9,220.3H1093.3V223.8H1076.9ZM697.3,223.5H713.7V227.0H697.3ZM771.3,223.5H1012.9V227.0H771.3ZM1076.9,223.5H1080.4V227.0H1076.9ZM1189.5,220.3H1234.8V227.0H1189.5ZM700.5,226.7H713.7V230.2H700.5ZM771.3,226.7H1009.6V230.2H771.3ZM703.8,229.9H713.7V233.4H703.8ZM774.5,229.9H1006.4V233.4H774.5ZM1189.5,226.7H1231.6V233.4H1189.5ZM777.7,233.1H1000.0V236.7H777.7ZM1189.5,233.1H1228.4V236.7H1189.5ZM707.0,233.1H713.7V239.9H707.0ZM781.0,236.4H993.6V239.9H781.0ZM710.2,239.6H716.9V243.1H710.2ZM784.2,239.6H987.1V243.1H784.2ZM1186.3,236.4H1228.4V243.1H1186.3ZM713.4,242.8H716.9V246.3H713.4ZM787.4,242.8H974.3V246.3H787.4ZM1186.3,242.8H1225.2V246.3H1186.3ZM716.6,246.0H720.1V249.5H716.6ZM793.8,246.0H967.8V249.5H793.8ZM719.8,249.2H729.8V252.7H719.8ZM803.5,249.2H961.4V252.7H803.5ZM1199.1,246.0H1225.2V252.7H1199.1ZM726.3,252.4H733.0V256.0H726.3ZM803.5,252.4H958.2V256.0H803.5ZM1212.0,252.4H1225.2V256.0H1212.0ZM845.3,255.7H948.5V259.2H845.3ZM1212.0,255.7H1221.9V259.2H1212.0ZM871.0,258.9H877.8V262.4H871.0ZM883.9,258.9H942.1V262.4H883.9ZM887.1,262.1H929.2V265.6H887.1ZM893.5,265.3H919.6V268.8H893.5ZM465.7,287.8H469.2V291.4H465.7ZM459.3,291.1H475.7V294.6H459.3ZM449.6,294.3H478.9V297.8H449.6ZM443.2,297.5H485.3V301.0H443.2ZM443.2,300.7H488.5V304.2H443.2ZM443.2,303.9H491.8V307.4H443.2ZM446.4,307.1H491.8V310.7H446.4ZM452.9,310.4H488.5V313.9H452.9ZM459.3,313.6H488.5V317.1H459.3ZM468.9,316.8H491.8V320.3H468.9ZM475.4,320.0H491.8V323.5H475.4ZM478.6,323.2H498.2V326.7H478.6ZM488.2,326.4H501.4V330.0H488.2ZM494.7,329.7H507.8V333.2H494.7ZM501.1,332.9H511.1V336.4H501.1ZM510.8,336.1H514.3V339.6H510.8ZM166.6,558.1H170.1V561.6H166.6ZM163.4,561.3H173.3V564.9H163.4ZM160.1,564.6H173.3V568.1H160.1ZM160.1,567.8H176.5V571.3H160.1ZM156.9,571.0H176.5V574.5H156.9ZM156.9,574.2H179.7V577.7H156.9ZM436.8,577.4H449.9V580.9H436.8ZM153.7,577.4H179.7V584.2H153.7ZM433.6,580.6H453.2V584.2H433.6ZM150.5,583.9H179.7V587.4H150.5ZM430.3,583.9H459.6V587.4H430.3ZM150.5,587.1H176.5V590.6H150.5ZM417.5,587.1H462.8V590.6H417.5ZM147.3,590.3H176.5V593.8H147.3ZM414.3,590.3H449.9V593.8H414.3ZM147.3,593.5H173.3V597.0H147.3ZM407.8,593.5H446.7V597.0H407.8ZM144.1,596.7H170.1V600.3H144.1ZM140.8,600.0H170.1V603.5H140.8ZM407.8,596.7H443.5V603.5H407.8ZM137.6,603.2H166.9V606.7H137.6ZM137.6,606.4H163.7V609.9H137.6ZM407.8,603.2H440.3V609.9H407.8ZM137.6,609.6H160.4V613.1H137.6ZM414.3,609.6H427.4V613.1H414.3Z"/>
<path fill="#37a8fa" d="M1128.4,117.3H1267.0V120.8H1128.4ZM1089.8,120.5H1267.0V124.0H1089.8ZM832.4,123.7H855.2V127.2H832.4ZM822.8,126.9H864.9V130.5H822.8ZM1070.5,123.7H1267.0V130.5H1070.5ZM813.1,130.2H861.7V133.7H813.1ZM816.3,133.4H861.7V136.9H816.3ZM819.6,136.6H858.5V143.3H819.6ZM247.0,143.0H279.5V146.6H247.0ZM822.8,143.0H858.5V146.6H822.8ZM1073.7,130.2H1267.0V146.6H1073.7ZM243.8,146.3H285.9V149.8H243.8ZM1070.5,146.3H1267.0V149.8H1070.5ZM237.3,149.5H292.3V153.0H237.3ZM826.0,146.3H858.5V153.0H826.0ZM1064.0,149.5H1267.0V153.0H1064.0ZM234.1,152.7H295.5V156.2H234.1ZM829.2,152.7H858.5V156.2H829.2ZM1060.8,152.7H1267.0V156.2H1060.8ZM221.3,155.9H244.1V159.4H221.3ZM256.6,155.9H298.8V159.4H256.6ZM1057.6,155.9H1267.0V159.4H1057.6ZM266.3,159.1H295.5V162.6H266.3ZM1054.4,159.1H1267.0V162.6H1054.4ZM1047.9,162.3H1090.1V165.9H1047.9ZM1112.3,162.3H1267.0V165.9H1112.3ZM1044.7,165.6H1086.8V169.1H1044.7ZM1118.7,165.6H1267.0V169.1H1118.7ZM832.4,155.9H858.5V172.3H832.4ZM1038.3,168.8H1077.2V172.3H1038.3ZM829.2,172.0H858.5V175.5H829.2ZM1028.6,172.0H1067.5V175.5H1028.6ZM321.0,175.2H334.1V178.7H321.0ZM1022.2,175.2H1061.1V178.7H1022.2ZM1121.9,168.8H1267.0V178.7H1121.9ZM282.4,178.4H292.3V181.9H282.4ZM671.6,178.4H710.5V181.9H671.6ZM713.4,178.4H723.4V181.9H713.4ZM1006.1,178.4H1054.7V181.9H1006.1ZM1118.7,178.4H1267.0V181.9H1118.7ZM668.4,181.6H726.6V185.2H668.4ZM829.2,175.2H861.7V185.2H829.2ZM980.4,181.6H1051.5V185.2H980.4ZM1118.7,181.6H1263.8V185.2H1118.7ZM324.2,178.4H353.4V188.4H324.2ZM668.4,184.9H729.8V188.4H668.4ZM967.5,184.9H1048.2V188.4H967.5ZM1118.7,184.9H1160.8V188.4H1118.7ZM275.9,184.9H279.5V191.6H275.9ZM324.2,188.1H347.0V191.6H324.2ZM671.6,188.1H729.8V191.6H671.6ZM826.0,184.9H864.9V191.6H826.0ZM954.7,188.1H1045.0V191.6H954.7ZM1112.3,188.1H1148.0V191.6H1112.3ZM324.2,191.3H340.6V194.8H324.2ZM671.6,191.3H726.6V194.8H671.6ZM826.0,191.3H868.1V194.8H826.0ZM941.8,191.3H1045.0V194.8H941.8ZM1109.1,191.3H1144.7V194.8H1109.1ZM324.2,194.5H330.9V198.0H324.2ZM671.6,194.5H723.4V198.0H671.6ZM822.8,194.5H874.5V198.0H822.8ZM928.9,194.5H1041.8V198.0H928.9ZM1109.1,194.5H1141.5V198.0H1109.1ZM1189.5,184.9H1263.8V198.0H1189.5ZM674.8,197.7H720.1V201.3H674.8ZM822.8,197.7H1041.8V201.3H822.8ZM1102.6,197.7H1131.9V201.3H1102.6ZM1189.5,197.7H1250.9V201.3H1189.5ZM1260.2,197.7H1263.8V201.3H1260.2ZM674.8,201.0H716.9V204.5H674.8ZM816.3,201.0H1038.6V204.5H816.3ZM1099.4,201.0H1125.4V204.5H1099.4ZM1189.5,201.0H1247.7V204.5H1189.5ZM678.0,204.2H713.7V207.7H678.0ZM813.1,204.2H1032.2V207.7H813.1ZM1099.4,204.2H1115.8V207.7H1099.4ZM1189.5,204.2H1244.5V207.7H1189.5ZM681.2,207.4H710.5V210.9H681.2ZM803.5,207.4H1028.9V210.9H803.5ZM1096.2,207.4H1109.4V210.9H1096.2ZM1192.7,207.4H1241.2V210.9H1192.7ZM269.5,207.4H273.0V214.1H269.5ZM684.5,210.6H710.5V214.1H684.5ZM784.2,210.6H1022.5V214.1H784.2ZM1093.0,210.6H1099.7V214.1H1093.0ZM269.5,213.8H276.2V217.3H269.5ZM690.9,213.8H707.3V217.3H690.9ZM771.3,213.8H1019.3V217.3H771.3ZM1192.7,210.6H1238.0V217.3H1192.7ZM700.5,217.0H707.3V220.6H700.5ZM771.3,217.0H1016.1V220.6H771.3ZM771.3,220.3H1009.6V223.8H771.3ZM1192.7,217.0H1234.8V223.8H1192.7ZM774.5,223.5H1006.4V227.0H774.5ZM1192.7,223.5H1231.6V227.0H1192.7ZM774.5,226.7H1003.2V230.2H774.5ZM777.7,229.9H1000.0V233.4H777.7ZM1192.7,226.7H1228.4V233.4H1192.7ZM781.0,233.1H990.3V236.7H781.0ZM1192.7,233.1H1225.2V236.7H1192.7ZM784.2,236.4H983.9V239.9H784.2ZM787.4,239.6H974.3V243.1H787.4ZM1189.5,236.4H1225.2V243.1H1189.5ZM793.8,242.8H967.8V246.3H793.8ZM1199.1,242.8H1221.9V246.3H1199.1ZM803.5,246.0H961.4V249.5H803.5ZM1202.3,246.0H1221.9V249.5H1202.3ZM806.7,249.2H955.0V252.7H806.7ZM1212.0,249.2H1221.9V252.7H1212.0ZM845.3,252.4H945.3V256.0H845.3ZM1215.2,252.4H1221.9V256.0H1215.2ZM871.0,255.7H877.8V259.2H871.0ZM880.7,255.7H938.9V259.2H880.7ZM890.3,258.9H919.6V262.4H890.3ZM900.0,262.1H906.7V265.6H900.0ZM449.6,297.5H469.2V301.0H449.6ZM446.4,300.7H472.5V307.4H446.4ZM449.6,307.1H472.5V310.7H449.6ZM163.4,561.3H170.1V564.9H163.4ZM163.4,564.6H173.3V568.1H163.4ZM160.1,567.8H176.5V574.5H160.1ZM156.9,574.2H176.5V580.9H156.9ZM153.7,580.6H176.5V587.4H153.7ZM150.5,587.1H176.5V590.6H150.5ZM150.5,590.3H173.3V593.8H150.5ZM147.3,593.5H170.1V597.0H147.3ZM144.1,596.7H170.1V600.3H144.1ZM144.1,600.0H166.9V603.5H144.1ZM140.8,603.2H163.7V606.7H140.8ZM417.5,600.0H433.9V606.7H417.5ZM140.8,606.4H160.4V609.9H140.8ZM420.7,606.4H427.4V609.9H420.7ZM153.7,609.6H157.2V613.1H153.7Z"/>
<path fill="#33adf7" d="M1147.7,117.3H1267.0V120.8H1147.7ZM1118.7,120.5H1267.0V124.0H1118.7ZM1099.4,123.7H1267.0V127.2H1099.4ZM1086.5,126.9H1267.0V130.5H1086.5ZM842.1,133.4H848.8V136.9H842.1ZM250.2,143.0H276.2V146.6H250.2ZM835.6,136.6H848.8V146.6H835.6ZM247.0,146.3H282.7V149.8H247.0ZM240.6,149.5H289.1V153.0H240.6ZM237.3,152.7H292.3V156.2H237.3ZM838.9,146.3H848.8V156.2H838.9ZM1080.1,130.2H1267.0V156.2H1080.1ZM224.5,155.9H240.9V159.4H224.5ZM259.9,155.9H295.5V159.4H259.9ZM1086.5,155.9H1267.0V159.4H1086.5ZM266.3,159.1H292.3V162.6H266.3ZM1112.3,159.1H1267.0V162.6H1112.3ZM1115.5,162.3H1263.8V165.9H1115.5ZM842.1,155.9H848.8V169.1H842.1ZM1121.9,165.6H1263.8V172.3H1121.9ZM845.3,168.8H848.8V175.5H845.3ZM324.2,175.2H330.9V178.7H324.2ZM1125.1,172.0H1263.8V178.7H1125.1ZM1121.9,178.4H1263.8V181.9H1121.9ZM674.8,181.6H697.6V185.2H674.8ZM1121.9,181.6H1160.8V185.2H1121.9ZM1186.3,181.6H1263.8V185.2H1186.3ZM324.2,178.4H353.4V188.4H324.2ZM674.8,184.9H704.1V188.4H674.8ZM1121.9,184.9H1154.4V188.4H1121.9ZM1189.5,184.9H1263.8V188.4H1189.5ZM324.2,188.1H343.8V191.6H324.2ZM674.8,188.1H707.3V191.6H674.8ZM842.1,188.1H848.8V191.6H842.1ZM1121.9,188.1H1144.7V191.6H1121.9ZM1192.7,188.1H1263.8V191.6H1192.7ZM324.2,191.3H337.4V194.8H324.2ZM838.9,191.3H852.0V194.8H838.9ZM1118.7,191.3H1138.3V194.8H1118.7ZM674.8,191.3H710.5V198.0H674.8ZM835.6,194.5H858.5V198.0H835.6ZM1118.7,194.5H1128.7V198.0H1118.7ZM1192.7,191.3H1260.5V198.0H1192.7ZM678.0,197.7H707.3V201.3H678.0ZM829.2,197.7H864.9V201.3H829.2ZM957.9,197.7H1000.0V201.3H957.9ZM1192.7,197.7H1247.7V201.3H1192.7ZM681.2,201.0H704.1V204.5H681.2ZM826.0,201.0H877.8V204.5H826.0ZM935.4,201.0H1006.4V204.5H935.4ZM1192.7,201.0H1244.5V204.5H1192.7ZM684.5,204.2H704.1V207.7H684.5ZM819.6,204.2H1009.6V207.7H819.6ZM1192.7,204.2H1241.2V207.7H1192.7ZM813.1,207.4H1009.6V210.9H813.1ZM800.3,210.6H1009.6V214.1H800.3ZM1192.7,207.4H1238.0V214.1H1192.7ZM784.2,213.8H1006.4V217.3H784.2ZM1192.7,213.8H1234.8V217.3H1192.7ZM774.5,217.0H1003.2V220.6H774.5ZM774.5,220.3H1000.0V223.8H774.5ZM1192.7,217.0H1231.6V223.8H1192.7ZM777.7,223.5H996.8V227.0H777.7ZM777.7,226.7H993.6V230.2H777.7ZM1195.9,223.5H1228.4V230.2H1195.9ZM781.0,229.9H987.1V233.4H781.0ZM784.2,233.1H980.7V236.7H784.2ZM1195.9,229.9H1225.2V236.7H1195.9ZM787.4,236.4H971.0V239.9H787.4ZM1192.7,236.4H1221.9V239.9H1192.7ZM790.6,239.6H964.6V243.1H790.6ZM1199.1,239.6H1221.9V243.1H1199.1ZM800.3,242.8H958.2V246.3H800.3ZM1202.3,242.8H1218.7V246.3H1202.3ZM806.7,246.0H948.5V249.5H806.7ZM1212.0,246.0H1218.7V249.5H1212.0ZM845.3,249.2H938.9V252.7H845.3ZM867.8,252.4H877.8V256.0H867.8ZM880.7,252.4H922.8V256.0H880.7ZM896.8,255.7H906.7V259.2H896.8ZM449.6,300.7H459.6V304.2H449.6ZM452.9,303.9H459.6V307.4H452.9ZM166.6,561.3H170.1V564.9H166.6ZM163.4,564.6H173.3V568.1H163.4ZM160.1,567.8H173.3V574.5H160.1ZM160.1,574.2H176.5V577.7H160.1ZM156.9,577.4H176.5V580.9H156.9ZM153.7,580.6H176.5V587.4H153.7ZM153.7,587.1H173.3V590.6H153.7ZM150.5,590.3H173.3V593.8H150.5ZM150.5,593.5H170.1V597.0H150.5ZM147.3,596.7H166.9V603.5H147.3ZM144.1,603.2H163.7V606.7H144.1ZM150.5,606.4H157.2V609.9H150.5Z"/>
<path fill="#2fb2f4" d="M1163.7,117.3H1267.0V120.8H1163.7ZM1134.8,120.5H1267.0V124.0H1134.8ZM1118.7,123.7H1267.0V127.2H1118.7ZM1109.1,126.9H1267.0V130.5H1109.1ZM1102.6,130.2H1267.0V133.7H1102.6ZM1099.4,133.4H1267.0V143.3H1099.4ZM250.2,143.0H276.2V146.6H250.2ZM1099.4,143.0H1263.8V146.6H1099.4ZM247.0,146.3H282.7V149.8H247.0ZM1102.6,146.3H1263.8V149.8H1102.6ZM240.6,149.5H289.1V153.0H240.6ZM1105.8,149.5H1263.8V153.0H1105.8ZM237.3,152.7H292.3V156.2H237.3ZM1109.1,152.7H1263.8V156.2H1109.1ZM224.5,155.9H240.9V159.4H224.5ZM259.9,155.9H295.5V159.4H259.9ZM1112.3,155.9H1263.8V159.4H1112.3ZM269.5,159.1H292.3V162.6H269.5ZM1118.7,159.1H1263.8V162.6H1118.7ZM1121.9,162.3H1263.8V165.9H1121.9ZM1125.1,165.6H1263.8V175.5H1125.1ZM324.2,175.2H330.9V178.7H324.2ZM1128.4,175.2H1260.5V181.9H1128.4ZM1128.4,181.6H1154.4V185.2H1128.4ZM1189.5,181.6H1260.5V185.2H1189.5ZM324.2,178.4H353.4V188.4H324.2ZM1128.4,184.9H1144.7V188.4H1128.4ZM324.2,188.1H343.8V191.6H324.2ZM681.2,188.1H691.2V191.6H681.2ZM1192.7,184.9H1260.5V191.6H1192.7ZM324.2,191.3H337.4V194.8H324.2ZM681.2,191.3H694.4V194.8H681.2ZM1192.7,191.3H1257.3V194.8H1192.7ZM684.5,194.5H691.2V198.0H684.5ZM1192.7,194.5H1247.7V198.0H1192.7ZM1195.9,197.7H1244.5V201.3H1195.9ZM1195.9,201.0H1241.2V204.5H1195.9ZM835.6,204.2H858.5V207.7H835.6ZM1195.9,204.2H1238.0V207.7H1195.9ZM826.0,207.4H877.8V210.9H826.0ZM816.3,210.6H932.4V214.1H816.3ZM1195.9,207.4H1234.8V214.1H1195.9ZM806.7,213.8H961.4V217.3H806.7ZM1195.9,213.8H1231.6V217.3H1195.9ZM790.6,217.0H967.8V220.6H790.6ZM1195.9,217.0H1228.4V223.8H1195.9ZM781.0,220.3H971.0V227.0H781.0ZM781.0,226.7H967.8V230.2H781.0ZM1199.1,223.5H1225.2V230.2H1199.1ZM784.2,229.9H964.6V233.4H784.2ZM1199.1,229.9H1221.9V233.4H1199.1ZM787.4,233.1H958.2V236.7H787.4ZM1199.1,233.1H1218.7V236.7H1199.1ZM790.6,236.4H951.7V239.9H790.6ZM1202.3,236.4H1218.7V239.9H1202.3ZM797.0,239.6H945.3V243.1H797.0ZM1205.6,239.6H1215.5V243.1H1205.6ZM806.7,242.8H935.7V246.3H806.7ZM826.0,246.0H922.8V249.5H826.0ZM867.8,249.2H877.8V252.7H867.8ZM887.1,249.2H906.7V252.7H887.1ZM166.6,561.3H170.1V564.9H166.6ZM163.4,564.6H170.1V568.1H163.4ZM163.4,567.8H173.3V571.3H163.4ZM160.1,571.0H173.3V577.7H160.1ZM156.9,577.4H176.5V584.2H156.9ZM153.7,583.9H173.3V590.6H153.7ZM153.7,590.3H170.1V593.8H153.7ZM150.5,593.5H166.9V600.3H150.5ZM150.5,600.0H163.7V603.5H150.5ZM150.5,603.2H160.4V606.7H150.5Z"/>
<path fill="#2ab9ee" d="M1179.8,117.3H1254.1V120.8H1179.8ZM1147.7,120.5H1263.8V124.0H1147.7ZM1131.6,123.7H1263.8V127.2H1131.6ZM1125.1,126.9H1263.8V130.5H1125.1ZM1118.7,130.2H1263.8V133.7H1118.7ZM247.0,146.3H279.5V149.8H247.0ZM243.8,149.5H285.9V153.0H243.8ZM1115.5,133.4H1263.8V153.0H1115.5ZM237.3,152.7H244.1V156.2H237.3ZM256.6,152.7H292.3V156.2H256.6ZM1118.7,152.7H1263.8V156.2H1118.7ZM259.9,155.9H295.5V159.4H259.9ZM1121.9,155.9H1263.8V159.4H1121.9ZM269.5,159.1H285.9V162.6H269.5ZM1125.1,159.1H1263.8V162.6H1125.1ZM1125.1,162.3H1260.5V165.9H1125.1ZM1128.4,165.6H1260.5V172.3H1128.4ZM1131.6,172.0H1260.5V178.7H1131.6ZM327.4,178.4H330.9V181.9H327.4ZM1134.8,178.4H1157.6V181.9H1134.8ZM1179.8,178.4H1257.3V181.9H1179.8ZM327.4,181.6H350.2V185.2H327.4ZM327.4,184.9H343.8V188.4H327.4ZM1192.7,181.6H1257.3V188.4H1192.7ZM327.4,188.1H337.4V191.6H327.4ZM1195.9,188.1H1254.1V191.6H1195.9ZM1195.9,191.3H1244.5V194.8H1195.9ZM1195.9,194.5H1241.2V198.0H1195.9ZM1195.9,197.7H1238.0V201.3H1195.9ZM1195.9,201.0H1234.8V204.5H1195.9ZM1199.1,204.2H1231.6V210.9H1199.1ZM835.6,210.6H861.7V214.1H835.6ZM822.8,213.8H887.4V217.3H822.8ZM1199.1,210.6H1228.4V217.3H1199.1ZM809.9,217.0H913.1V220.6H809.9ZM1199.1,217.0H1225.2V220.6H1199.1ZM800.3,220.3H926.0V223.8H800.3ZM790.6,223.5H932.4V227.0H790.6ZM1202.3,220.3H1221.9V227.0H1202.3ZM1202.3,226.7H1218.7V230.2H1202.3ZM790.6,226.7H935.7V233.4H790.6ZM1205.6,229.9H1215.5V233.4H1205.6ZM793.8,233.1H929.2V236.7H793.8ZM1208.8,233.1H1212.3V236.7H1208.8ZM800.3,236.4H926.0V239.9H800.3ZM809.9,239.6H916.4V243.1H809.9ZM822.8,242.8H903.5V246.3H822.8ZM163.4,564.6H170.1V568.1H163.4ZM163.4,567.8H173.3V571.3H163.4ZM160.1,571.0H173.3V577.7H160.1ZM156.9,577.4H173.3V587.4H156.9ZM153.7,587.1H170.1V593.8H153.7ZM153.7,593.5H166.9V597.0H153.7ZM153.7,596.7H163.7V600.3H153.7ZM153.7,600.0H160.4V603.5H153.7Z"/>
<path fill="#27bee9" d="M1199.1,117.3H1231.6V120.8H1199.1ZM1160.5,120.5H1263.8V124.0H1160.5ZM1144.4,123.7H1263.8V127.2H1144.4ZM1134.8,126.9H1263.8V130.5H1134.8ZM1131.6,130.2H1263.8V133.7H1131.6ZM1128.4,133.4H1263.8V140.1H1128.4ZM250.2,146.3H276.2V149.8H250.2ZM247.0,149.5H282.7V153.0H247.0ZM1125.1,139.8H1263.8V153.0H1125.1ZM259.9,152.7H289.1V156.2H259.9ZM266.3,155.9H292.3V159.4H266.3ZM1128.4,152.7H1260.5V159.4H1128.4ZM269.5,159.1H279.5V162.6H269.5ZM1131.6,159.1H1260.5V165.9H1131.6ZM1134.8,165.6H1260.5V169.1H1134.8ZM1134.8,168.8H1257.3V172.3H1134.8ZM1138.0,172.0H1257.3V175.5H1138.0ZM1144.4,175.2H1160.8V178.7H1144.4ZM1163.7,175.2H1257.3V178.7H1163.7ZM327.4,178.4H330.9V181.9H327.4ZM1189.5,178.4H1254.1V181.9H1189.5ZM327.4,181.6H350.2V185.2H327.4ZM1192.7,181.6H1250.9V185.2H1192.7ZM327.4,184.9H343.8V188.4H327.4ZM1195.9,184.9H1247.7V188.4H1195.9ZM327.4,188.1H337.4V191.6H327.4ZM1199.1,188.1H1241.2V191.6H1199.1ZM1199.1,191.3H1238.0V194.8H1199.1ZM1199.1,194.5H1234.8V198.0H1199.1ZM1199.1,197.7H1231.6V201.3H1199.1ZM1202.3,201.0H1228.4V207.7H1202.3ZM1202.3,207.4H1225.2V210.9H1202.3ZM1205.6,210.6H1221.9V214.1H1205.6ZM1205.6,213.8H1218.7V217.3H1205.6ZM832.4,217.0H868.1V220.6H832.4ZM1208.8,217.0H1215.5V220.6H1208.8ZM819.6,220.3H887.4V223.8H819.6ZM809.9,223.5H900.3V227.0H809.9ZM803.5,226.7H906.7V233.4H803.5ZM806.7,233.1H903.5V236.7H806.7ZM813.1,236.4H897.1V239.9H813.1ZM832.4,239.6H881.0V243.1H832.4ZM163.4,564.6H170.1V571.3H163.4ZM160.1,571.0H173.3V580.9H160.1ZM156.9,580.6H173.3V587.4H156.9ZM156.9,587.1H170.1V590.6H156.9ZM156.9,590.3H166.9V593.8H156.9ZM156.9,593.5H163.7V597.0H156.9ZM156.9,596.7H160.4V600.3H156.9Z"/>
<path fill="#23c3e4" d="M1170.2,120.5H1263.8V124.0H1170.2ZM1154.1,123.7H1263.8V127.2H1154.1ZM1147.7,126.9H1263.8V130.5H1147.7ZM1141.2,130.2H1263.8V133.7H1141.2ZM1138.0,133.4H1263.8V136.9H1138.0ZM1138.0,136.6H1260.5V143.3H1138.0ZM259.9,149.5H276.2V153.0H259.9ZM1134.8,143.0H1260.5V153.0H1134.8ZM266.3,152.7H282.7V156.2H266.3ZM269.5,155.9H285.9V159.4H269.5ZM1138.0,152.7H1260.5V159.4H1138.0ZM1138.0,159.1H1257.3V162.6H1138.0ZM1141.2,162.3H1257.3V169.1H1141.2ZM1147.7,168.8H1254.1V172.3H1147.7ZM1163.7,172.0H1250.9V175.5H1163.7ZM1186.3,175.2H1247.7V178.7H1186.3ZM1195.9,178.4H1244.5V181.9H1195.9ZM1199.1,181.6H1241.2V185.2H1199.1ZM330.6,184.9H334.1V188.4H330.6ZM1199.1,184.9H1234.8V188.4H1199.1ZM1202.3,188.1H1231.6V191.6H1202.3ZM1205.6,191.3H1228.4V194.8H1205.6ZM1205.6,194.5H1225.2V198.0H1205.6ZM1212.0,197.7H1218.7V201.3H1212.0ZM848.5,223.5H852.0V227.0H848.5ZM832.4,226.7H868.1V230.2H832.4ZM829.2,229.9H871.3V233.4H829.2ZM838.9,233.1H864.9V236.7H838.9ZM166.6,564.6H170.1V568.1H166.6ZM163.4,567.8H170.1V571.3H163.4ZM160.1,571.0H170.1V574.5H160.1ZM160.1,574.2H173.3V584.2H160.1ZM160.1,583.9H170.1V590.6H160.1ZM160.1,590.3H166.9V593.8H160.1Z"/>
<path fill="#1fc9dd" d="M1183.0,120.5H1247.7V124.0H1183.0ZM1163.7,123.7H1260.5V127.2H1163.7ZM1157.3,126.9H1260.5V130.5H1157.3ZM1150.9,130.2H1260.5V136.9H1150.9ZM1147.7,136.6H1260.5V146.6H1147.7ZM272.7,155.9H276.2V159.4H272.7ZM1147.7,146.3H1257.3V159.4H1147.7ZM1150.9,159.1H1254.1V162.6H1150.9ZM1154.1,162.3H1250.9V165.9H1154.1ZM1160.5,165.6H1247.7V169.1H1160.5ZM1170.2,168.8H1244.5V172.3H1170.2ZM1186.3,172.0H1241.2V175.5H1186.3ZM1195.9,175.2H1234.8V178.7H1195.9ZM1202.3,178.4H1228.4V181.9H1202.3ZM1205.6,181.6H1221.9V185.2H1205.6ZM163.4,567.8H170.1V574.5H163.4ZM160.1,574.2H170.1V587.4H160.1ZM160.1,587.1H166.9V590.6H160.1Z"/>
<path fill="#1bd0d5" d="M1199.1,120.5H1231.6V124.0H1199.1ZM1176.6,123.7H1257.3V127.2H1176.6ZM1167.0,126.9H1257.3V130.5H1167.0ZM1160.5,130.2H1257.3V133.7H1160.5ZM1157.3,133.4H1257.3V146.6H1157.3ZM1157.3,146.3H1254.1V156.2H1157.3ZM1160.5,155.9H1250.9V159.4H1160.5ZM1163.7,159.1H1247.7V162.6H1163.7ZM1170.2,162.3H1241.2V165.9H1170.2ZM1179.8,165.6H1238.0V169.1H1179.8ZM1192.7,168.8H1231.6V172.3H1192.7ZM1202.3,172.0H1221.9V175.5H1202.3ZM166.6,567.8H170.1V571.3H166.6ZM163.4,571.0H170.1V577.7H163.4ZM160.1,577.4H170.1V587.4H160.1Z"/>
<path fill="#1ad4d0" d="M1186.3,123.7H1244.5V127.2H1186.3ZM1176.6,126.9H1257.3V130.5H1176.6ZM1170.2,130.2H1254.1V133.7H1170.2ZM1167.0,133.4H1254.1V146.6H1167.0ZM1167.0,146.3H1250.9V149.8H1167.0ZM1167.0,149.5H1247.7V153.0H1167.0ZM1170.2,152.7H1244.5V156.2H1170.2ZM1173.4,155.9H1241.2V159.4H1173.4ZM1179.8,159.1H1234.8V162.6H1179.8ZM1189.5,162.3H1228.4V165.9H1189.5ZM1202.3,165.6H1215.5V169.1H1202.3ZM163.4,571.0H170.1V580.9H163.4ZM160.1,580.6H170.1V584.2H160.1ZM163.4,583.9H166.9V587.4H163.4Z"/>
<path fill="#18d9c8" d="M1199.1,123.7H1231.6V127.2H1199.1ZM1186.3,126.9H1244.5V130.5H1186.3ZM1179.8,130.2H1250.9V133.7H1179.8ZM1176.6,133.4H1250.9V140.1H1176.6ZM1176.6,139.8H1247.7V146.6H1176.6ZM1176.6,146.3H1244.5V149.8H1176.6ZM1179.8,149.5H1241.2V153.0H1179.8ZM1183.0,152.7H1234.8V156.2H1183.0ZM1192.7,155.9H1228.4V159.4H1192.7ZM1208.8,159.1H1212.3V162.6H1208.8ZM163.4,571.0H170.1V584.2H163.4Z"/>
<path fill="#18ddc2" d="M1195.9,126.9H1234.8V130.5H1195.9ZM1189.5,130.2H1241.2V133.7H1189.5ZM1186.3,133.4H1241.2V143.3H1186.3ZM1186.3,143.0H1238.0V146.6H1186.3ZM1189.5,146.3H1231.6V149.8H1189.5ZM1195.9,149.5H1225.2V153.0H1195.9ZM163.4,574.2H170.1V580.9H163.4ZM163.4,580.6H166.9V584.2H163.4Z"/>
<path fill="#19e2bb" d="M1202.3,130.2H1225.2V133.7H1202.3ZM1195.9,133.4H1231.6V140.1H1195.9ZM1199.1,139.8H1228.4V143.3H1199.1ZM1202.3,143.0H1221.9V146.6H1202.3Z"/>
</g>
<g fill="none" stroke="#5a5a5a" stroke-width="1.4" stroke-linejoin="round" stroke-linecap="round">
<path d="M166.1,121.6 166.1,129.6"/>
<path d="M367.4,121.6 367.4,155.1 372.4,163.1 380.4,168.1 393.0,171.7"/>
<path d="M140.1,135.6 142.1,144.0 145.1,153.0 147.1,165.1 148.1,175.1 145.1,178.1 149.1,181.1 149.1,205.1 148.1,212.1 147.1,217.1"/>
<path d="M103.6,174.5 147.7,174.5"/>
<path d="M103.6,212.1 124.0,212.5 131.0,215.1 140.1,214.5 147.1,217.1 151.1,222.1 154.1,229.2 158.1,239.2 160.1,244.2 166.1,250.6 169.1,254.2 168.1,258.2 173.1,263.2 173.1,295.2 175.7,312.1"/>
<path d="M149.1,205.5 215.8,205.5"/>
<path d="M160.1,243.2 211.2,243.2 214.2,246.2"/>
<path d="M103.6,250.8 166.1,250.8"/>
<path d="M103.6,288.8 173.1,288.8"/>
<path d="M173.7,295.2 231.2,295.2 233.2,299.3 228.2,302.3 235.2,302.3"/>
<path d="M231.2,157.1 218.2,159.1 204.1,164.5 202.1,171.7 195.1,178.1 197.1,184.1 197.1,190.1 208.2,196.1 215.2,201.1 216.2,205.5 218.2,212.1 225.2,218.1 230.2,225.2 228.2,230.2 219.2,234.2 220.2,238.2 216.2,242.2 214.2,246.2 213.2,251.2 217.2,258.2 225.2,265.2 231.2,266.2 228.2,273.2 236.2,282.2 240.2,287.2 243.2,289.2 241.2,294.2 236.2,299.3 232.2,308.3 230.2,312.1"/>
<path d="M238.2,148.0 231.2,159.1 228.2,166.1 236.2,169.1 252.2,173.1 260.2,177.1 262.2,183.1 265.2,185.1 269.2,181.1 274.2,181.7 280.3,183.1 274.2,190.1 270.2,198.1 269.2,206.1 270.2,218.1 269.2,227.2"/>
<path d="M225.2,218.1 269.2,218.1"/>
<path d="M264.6,227.8 264.6,258.2 263.2,266.2 259.2,274.2 257.2,279.2"/>
<path d="M264.6,227.8 299.3,227.8 320.3,227.2"/>
<path d="M299.3,227.8 299.3,265.2"/>
<path d="M243.2,289.2 250.2,287.2 256.2,280.2 258.2,278.2 266.2,277.2 272.2,278.2 278.2,274.2 286.3,270.2 292.3,267.2 299.3,265.2 302.3,263.2 310.3,267.2 320.3,267.8 327.3,271.2 332.3,266.2 340.3,261.2 348.3,256.2 353.4,248.2 354.0,243.2"/>
<path d="M327.3,271.2 330.3,278.2 335.3,283.2 340.3,286.2 350.4,284.2 357.4,281.2 362.4,274.2 368.4,268.2 376.4,261.2 384.4,256.2"/>
<path d="M335.3,283.2 324.3,290.2 314.3,294.2"/>
<path d="M240.2,294.2 256.2,295.2 258.2,293.8 314.3,294.2 393.0,295.0"/>
<path d="M173.7,295.6 175.7,312.1 175.1,332.1 180.1,334.1 180.7,340.5 180.7,350.1 184.1,358.1 187.1,366.1 185.1,374.1 184.1,381.2"/>
<path d="M103.6,321.1 112.0,323.1 120.0,325.1 130.0,328.1 140.1,330.1 150.1,330.1 160.1,329.1 168.1,329.1 175.1,332.1"/>
<path d="M180.7,340.5 217.8,340.5"/>
<path d="M240.2,295.0 236.2,302.0 232.2,309.1 230.2,315.1 224.2,320.1 219.2,327.1 217.2,334.1 219.2,340.1 218.2,347.1 220.2,350.1 215.2,358.1 211.2,366.1 234.2,366.5 237.2,372.1 238.2,378.2 240.2,382.2"/>
<path d="M230.2,315.1 320.3,314.5"/>
<path d="M256.8,315.1 254.2,336.1 252.2,354.1 253.2,374.1"/>
<path d="M288.7,315.7 292.3,330.1 297.3,350.1 295.3,358.1 297.3,366.1 298.3,369.7 332.3,372.1 333.3,375.1 335.9,369.1 342.3,369.7"/>
<path d="M265.2,374.5 265.2,370.1 263.2,366.5 296.3,366.5"/>
<path d="M339.3,295.6 332.3,299.6 324.3,302.0 316.3,307.1 309.3,310.1 306.3,314.5"/>
<path d="M348.3,352.5 342.3,345.1 335.3,336.1 326.3,326.1 318.3,317.7 330.3,312.5 348.3,313.7 351.4,317.1 366.4,318.1 379.4,328.5"/>
<path d="M500.1,155.1 510.1,156.1 511.1,149.0 516.1,148.0 528.1,149.6 531.7,147.6"/>
<path d="M563.2,176.1 565.2,174.1"/>
<path d="M686.1,733.8 686.1,741.2 694.1,745.2 702.1,750.2 706.1,760.2 714.2,774.2 717.2,780.3 722.2,780.3"/>
<path d="M632.0,749.2 633.0,766.2 636.1,774.2 646.1,782.3 652.0,786.1 663.0,792.2 665.0,796.2 649.0,829.8"/>
<path d="M624.0,762.2 632.0,762.2"/>
<path d="M797.2,780.1 794.2,792.2 789.2,804.2 784.2,816.2 776.2,824.2 769.2,829.8"/>
<path d="M853.3,801.8 842.3,812.2 837.3,821.2 838.3,829.8"/>
<path d="M858.3,802.6 857.3,810.2 861.3,820.2 860.3,829.8"/>
<path d="M575.3,737.1 582.4,740.1 586.4,754.1 585.4,764.1 588.4,774.1 597.4,784.1 598.4,777.1 603.4,772.5 610.4,775.7 614.4,773.1 614.4,764.1 618.4,762.5 623.0,762.1"/>
<path d="M380.0,170.0 391.2,171.9 399.9,175.0 404.9,178.7 413.7,180.6 424.9,178.7 432.4,179.4 433.4,183.5"/>
<path d="M364.4,218.9 364.4,224.7 421.2,224.9 424.9,229.3 429.9,233.7 424.9,237.4 423.0,242.4 426.1,246.1 428.6,249.3 424.9,250.5"/>
<path d="M428.0,233.0 440.1,238.0"/>
<path d="M354.7,220.6 354.7,253.9 416.2,253.9 416.8,269.9 424.9,270.1"/>
<path d="M367.5,254.3 368.1,259.9 376.8,255.5 382.5,256.1 387.4,256.1 392.4,261.1 396.2,263.0 400.6,265.5"/>
<path d="M446.1,186.2 446.7,195.0 445.5,201.2 448.0,206.2 448.0,215.6 446.1,219.9 444.2,228.7 443.0,237.4"/>
<path d="M469.2,186.6 467.3,192.5 463.0,196.8 459.8,205.0 457.4,211.2 456.7,215.2"/>
<path d="M475.5,183.1 476.7,195.0 478.6,209.9 479.2,213.1"/>
<path d="M448.0,215.6 473.6,215.6 478.6,213.3"/>
<path d="M445.5,224.3 453.6,224.9 473.0,224.3"/>
<path d="M466.7,224.9 466.7,233.7"/>
<path d="M471.7,224.9 473.8,228.9"/>
<path d="M300.0,294.5 414.2,294.5"/>
</g>
<g fill="none" stroke="#141414" stroke-width="2.1" stroke-linejoin="round" stroke-linecap="round">
<path d="M103.6,135.0 166.1,135.0 166.1,129.6 170.1,130.4 172.1,136.4 182.1,139.0 200.1,142.0 211.2,145.6 220.2,144.0 238.2,147.6 253.2,143.6 274.2,153.0 298.3,161.7 304.3,167.7 308.3,167.1 314.3,173.1 319.3,176.1 328.3,182.1 331.3,192.1 333.3,202.1 330.3,211.1 321.3,223.1 322.3,227.2 327.3,229.2 334.3,227.2 345.3,222.1 350.0,219.9 362.5,216.2 373.7,213.7 374.3,210.6 371.8,206.2 376.8,204.0 401.8,203.7 409.9,196.8 418.7,190.0 426.1,186.0 446.1,186.0 469.8,186.0 471.7,183.1 476.1,182.5 482.3,180.0 486.7,174.4 487.9,170.0 494.1,159.1 500.1,155.1 509.1,156.5 517.1,157.1 517.9,170.0 518.5,175.6 522.9,180.0 527.3,183.1 529.8,185.6"/>
<path d="M103.6,405.7 109.0,412.1 114.0,425.1 124.0,430.1 136.1,433.1 140.1,433.1"/>
<path d="M204.1,575.7 204.1,569.1 209.2,559.1 227.2,558.1 226.6,550.1 214.2,543.7 219.8,542.5 219.8,536.1 242.6,535.7 243.1,536.2 243.7,534.0 246.2,533.7 250.6,528.1 253.1,526.8 256.0,528.0"/>
<path d="M243.1,536.2 242.5,561.2 247.2,560.9"/>
<path d="M255.0,563.0 250.0,567.4 243.7,571.2 241.9,574.9 242.5,578.0 237.5,581.1 230.0,587.4"/>
<path d="M242.5,578.0 246.2,582.4 252.5,586.8 256.8,585.9 260.6,587.4 261.0,593.0 263.1,594.9"/>
<path d="M263.7,598.6 267.4,598.0 271.8,595.5 274.3,589.3 282.4,584.9 285.5,586.8 289.9,582.4 294.9,579.9 298.0,574.3 302.4,576.1 309.9,574.3 317.4,571.8 321.7,572.2"/>
<path d="M287.3,623.2 294.3,622.6 300.3,624.2 306.3,623.2 312.7,626.8"/>
<path d="M325.3,642.6 324.3,650.2 323.3,661.3"/>
<path d="M392.5,653.2 395.1,665.2 389.1,667.2 388.1,671.8"/>
<path d="M466.2,617.1 460.2,620.1 453.2,628.1 450.2,638.1 447.2,647.2 452.2,649.2 458.2,658.2 458.2,668.2 464.2,674.2 478.2,674.2 488.2,676.2 498.2,686.2 510.3,685.2 523.3,686.2 519.3,700.2 518.3,710.2 523.3,720.3 519.3,728.3 525.3,734.1 525.3,736.1 528.3,751.1"/>
<path d="M620.0,658.1 611.0,665.1 610.0,671.1 614.0,675.7 604.0,679.1 602.0,687.1 610.0,697.1 611.0,702.1 606.0,707.2 600.0,709.2 590.4,710.2 579.3,716.2 569.3,713.2 557.3,712.2 562.3,716.2 563.3,728.3 562.3,732.5 575.3,734.1 575.3,737.1 566.3,740.1 562.3,746.1 549.3,751.1 546.3,755.1 537.3,756.1 528.3,751.1"/>
<path d="M610.0,697.7 617.0,698.1 619.0,705.1 624.0,714.2 620.0,724.2 621.0,733.2 625.0,742.2 632.0,749.2 637.1,749.2 646.1,745.2 653.1,741.2 662.1,740.2 670.1,741.8 669.1,734.2 680.1,732.6 686.1,733.8 689.1,736.2 696.1,738.2 699.1,735.2 702.1,739.2 708.2,738.2 713.2,733.2 718.2,722.2 726.2,712.2"/>
<path d="M655.1,688.5 653.1,700.1 645.1,703.1 643.1,712.2 648.1,721.2 653.1,723.2 656.1,732.2 662.1,740.2"/>
<path d="M695.7,691.7 689.1,704.1 691.1,712.2 695.1,719.2 692.1,730.2 689.1,736.2"/>
<path d="M375.1,748.1 390.1,756.1 394.1,760.1 406.1,761.7 410.1,760.1 422.1,766.5 423.1,776.1 418.1,784.1 410.1,794.2 404.1,799.2 389.1,804.2 382.1,812.2 379.1,820.2 377.1,825.2 371.7,829.8"/>
<path d="M356.0,808.2 355.0,821.2 361.0,823.2 366.1,821.2 371.7,829.8"/>
<path d="M422.1,766.5 431.1,773.1 438.2,780.1 444.2,784.1 450.2,795.2 458.2,796.6 467.2,793.8 472.2,795.8 479.2,794.6 489.2,800.2 483.2,812.2 491.2,820.2 494.2,808.2 497.2,780.1 495.2,772.1 489.2,766.1 489.2,758.1 499.8,756.1 500.2,752.1 491.8,751.1 491.8,744.1 517.3,743.7 521.3,739.1 525.3,743.1 528.3,751.1"/>
<path d="M491.2,820.2 479.2,821.2 468.2,824.2 458.2,829.8"/>
<path d="M467.3,510.6 468.3,520.2 465.3,526.2 468.3,532.6"/>
<path d="M1263.1,419.9 1254.8,418.3 1244.0,419.6 1239.8,429.9 1234.8,430.8 1229.9,445.7 1219.9,453.2 1211.5,460.7 1207.4,478.2 1203.2,483.2 1199.9,489.8"/>
<path d="M1235.7,431.9 1263.1,432.4"/>
<path d="M1171.3,488.8 1200.2,489.2"/>
<path d="M1171.3,489.8 1224.0,490.7 1220.7,472.4 1224.0,465.7 1237.3,464.9 1236.5,431.6"/>
<path d="M1177.4,557.5 1182.4,553.8 1189.9,554.6 1195.7,551.6 1202.4,551.6 1217.4,559.1 1226.5,569.9 1234.0,576.6 1239.0,573.3 1240.2,567.4 1244.8,566.9 1253.2,569.9 1263.1,567.1"/>
<path d="M1234.0,576.6 1234.8,585.7 1238.2,593.2 1242.3,598.2 1242.8,606.6 1243.2,609.9 1248.2,607.4 1254.8,611.5 1263.1,612.9"/>
<path d="M1174.6,591.2 1188.2,589.9 1193.2,586.6 1197.4,588.2 1201.6,589.9 1209.9,587.4 1211.5,590.7 1206.6,594.1 1199.9,594.1 1195.7,591.6 1191.6,594.1 1185.7,596.6 1174.6,596.6"/>
<path d="M1176.6,604.9 1189.9,602.4 1214.9,603.2 1221.5,604.1 1229.9,606.6 1234.8,604.9 1242.8,606.6"/>
<path d="M1214.9,604.1 1213.2,609.0 1212.4,614.0 1201.6,617.4 1196.6,623.2"/>
<path d="M1220.7,650.2 1226.5,643.2 1229.9,638.2 1239.8,635.7 1248.2,635.7 1253.2,643.2 1255.7,653.2 1256.5,658.1 1263.1,656.2"/>
<path d="M1256.5,658.1 1249.0,666.5 1245.7,673.1 1244.0,677.3"/>
</g>
<g fill="none" stroke="#000" stroke-width="3.2" stroke-linejoin="round" stroke-linecap="round">
<path d="M533.1,121.6 528.1,127.0 509.1,133.0 500.1,140.0 488.1,151.0 476.1,162.5 483.1,161.1 488.1,157.1 498.1,148.0 507.1,142.0 519.1,137.0 534.1,132.4 554.2,131.6 565.2,138.0 553.2,148.0 556.2,160.1 560.2,168.1 568.2,172.1 578.2,175.1 589.2,175.7 599.2,174.1 606.2,166.1 611.2,160.5 611.8,170.5 621.3,175.1 605.2,182.1 580.2,190.1 564.2,196.1 549.2,205.5 539.1,204.1 538.5,193.7 561.2,182.5 548.2,183.1 536.1,184.5 529.1,187.1 529.8,186.2 512.3,195.6 499.8,200.0 487.9,203.1 482.3,208.7 479.2,213.1 478.6,218.1 480.4,222.4 482.3,225.5 486.1,226.8 486.7,223.7 488.6,223.1 491.7,226.2 490.4,229.9 482.3,231.2 473.6,232.4 466.1,234.3 457.4,235.5 448.6,236.8 441.7,238.0 437.4,241.2 434.9,243.6 438.6,244.9 437.4,251.1 436.1,254.9 431.1,259.9 427.4,263.6 424.9,264.9 421.8,259.9 418.7,257.4 418.0,259.9 420.5,264.9 424.9,268.6 424.9,271.7 421.2,276.1 418.0,281.1 413.7,286.7 411.2,286.7 414.9,279.8 418.0,277.4 413.7,273.6 409.9,269.9 408.7,262.4 406.8,263.6 405.5,268.6 407.4,273.6 399.9,273.0 403.7,274.9 408.0,276.7 408.7,284.8 411.2,288.6 413.7,291.0 414.2,294.1 416.2,308.1 409.2,316.1 395.1,321.7 386.1,328.1 380.1,329.5 374.1,334.1 369.1,340.2 358.1,346.2 348.1,355.2 343.1,363.2 342.1,374.2 345.1,388.2 351.1,396.2 355.1,406.2 360.1,424.1 360.4,424.1 358.4,436.1 354.4,442.1 347.3,442.1 344.3,436.1 338.3,432.1 332.3,422.1 324.3,408.1 327.3,398.1 320.3,387.1 309.3,378.1 295.3,384.1 286.3,377.1 278.2,374.0 264.2,376.1 252.2,374.4 240.2,376.1 238.2,380.1 242.2,387.1 240.2,389.7 232.2,387.1 222.2,391.1 211.2,384.1 198.1,385.1 188.1,382.1 174.1,385.1 162.1,393.1 150.1,399.1 142.1,405.1 138.1,413.1 138.1,424.1 140.1,433.1 135.0,448.2 133.0,464.2 131.0,477.2 135.0,489.2 141.1,502.2 149.1,511.2 156.1,522.3 168.1,527.3 176.1,530.7 190.1,527.1 206.1,524.1 216.2,520.1 223.2,515.0 226.2,506.0 227.2,498.0 230.2,494.0 240.2,490.4 254.2,488.4 270.2,487.6 273.8,492.0 270.2,500.0 263.7,508.7 262.7,512.5 266.2,514.7 264.3,521.2 261.8,528.1 260.3,531.2 257.2,529.7 255.7,531.5 256.5,537.4 255.6,543.7 256.5,547.4 254.3,552.4 251.2,555.5 247.5,557.2 246.5,559.7 248.7,561.4 255.0,562.4 258.7,560.9 266.2,561.2 273.7,562.4 282.4,559.7 284.9,558.4 289.9,560.2 296.2,558.7 301.2,559.7 306.1,561.8 311.1,565.5 317.4,569.3 321.7,572.2 320.5,574.9 321.1,581.1 318.9,586.1 317.4,592.4 316.1,598.6 317.4,603.6 314.9,609.8 313.9,614.8 311.3,620.2 313.3,626.2 317.3,632.2 323.3,640.2 332.3,646.2 340.3,651.2 348.3,650.2 357.4,646.2 366.4,643.2 376.4,642.2 386.4,646.2 392.1,652.2 398.1,654.2 404.1,651.2 410.1,646.1 416.1,644.1 418.1,629.1 426.1,623.7 434.1,621.1 442.2,620.1 450.2,617.1 458.2,612.1 467.2,605.1 473.2,608.1 472.2,614.1 466.2,617.1 468.2,624.1 467.8,632.1 463.8,638.1 467.8,648.2 473.2,647.2 476.2,639.1 472.2,631.1 472.2,624.1 485.2,620.1 488.2,610.1 491.2,609.1 494.2,616.1 504.2,619.1 512.3,626.1 513.3,629.1 527.3,629.1 538.3,628.1 546.3,633.1 556.3,635.7 562.3,632.1 562.3,628.1 576.3,627.7 594.4,627.1 583.4,632.1 588.4,635.7 599.4,637.1 607.4,644.1 609.4,652.2 613.4,655.2 617.0,655.1 630.0,662.1 638.1,671.1 638.1,677.1 643.1,678.1 655.1,688.1 670.1,691.1 672.1,688.1 682.1,687.7 696.1,691.1 709.2,695.1 718.2,701.1 725.2,707.2 726.2,712.2 731.2,712.2 736.2,725.2 741.2,741.2 747.2,743.2 747.8,752.2 738.2,763.2 741.2,766.2 765.2,768.2 765.2,781.3 774.2,772.6 792.3,778.2 812.3,784.3 818.2,792.2 816.2,800.2 831.3,795.8 853.3,801.8 860.3,802.2 875.3,801.8 895.4,812.2 910.4,826.2 918.4,829.8"/>
<path d="M343.0,829.8 345.0,820.2 350.0,814.2 356.0,808.2 363.0,799.2 361.0,794.2 356.0,799.2 349.0,794.2 350.0,786.1 349.0,779.1 354.0,776.1 358.0,766.1 360.0,755.1 375.1,748.1 374.1,744.1 378.1,742.1 379.1,735.1 383.1,731.1 391.1,728.1 398.1,716.1 395.1,710.0 394.1,700.0 396.1,691.0 394.1,680.0 388.1,672.2 381.1,663.2 384.1,660.2 378.1,654.2 370.1,650.6 363.0,653.2 355.0,660.2 360.0,668.2 350.0,672.2 348.0,664.2 342.0,667.2 339.0,662.2 332.0,658.6 325.3,661.3 318.3,657.2 312.3,652.2 306.3,646.2 300.3,638.2 297.3,635.2 294.3,642.2 287.3,635.2 285.3,627.2 287.3,623.2 280.3,616.2 273.7,608.6 267.4,602.4 262.5,599.2 265.0,596.7 263.1,594.2 260.6,596.1 251.2,596.1 242.5,593.0 235.0,591.7 230.0,588.0 220.2,586.1 212.2,584.1 204.1,578.1 194.1,571.1 186.1,563.1 177.1,557.1 168.1,556.1 158.1,560.1 148.1,563.7 136.1,560.1 122.0,555.1 112.0,551.1 104.4,549.1"/>
<path d="M644.3,120.0 638.3,133.0 627.3,140.0 633.3,143.6 625.3,149.0 627.3,153.6 648.3,154.5 666.3,153.0 680.3,156.1 670.3,161.1 678.3,161.1 691.4,150.0 696.4,152.0 695.4,163.1 707.4,166.1 713.4,153.0 708.4,138.0 700.4,140.0 702.4,131.0 690.4,127.0 683.3,131.0 673.3,127.0 677.3,120.0Z"/>
<path d="M560.2,124.0 572.2,123.6 588.2,127.6 595.8,131.6 594.2,134.0 580.2,132.4 568.2,128.0Z"/>
<path d="M562.2,165.1 566.2,160.5 572.2,166.1 584.2,168.5 593.2,167.1 588.2,172.1 578.2,172.5 568.2,169.1Z"/>
<path d="M442.1,238.4 449.9,236.8 458.6,235.7 465.1,238.0 463.0,238.9 454.9,239.9 447.4,241.2 442.6,239.7Z"/>
<path d="M297.0,483.1 302.0,480.1 305.0,476.1 312.0,472.1 320.1,469.1 332.1,467.1 344.1,468.1 354.1,469.1 364.1,472.5 371.1,477.1 382.1,475.7 389.2,481.1 398.2,487.1 406.2,492.5 413.2,492.5 418.2,495.1 417.2,498.5 426.2,499.1 433.2,502.1 436.2,505.1 432.2,508.2 418.2,509.2 404.2,509.2 390.2,510.2 396.2,503.1 400.2,502.1 393.2,498.1 384.1,496.1 379.1,489.1 378.1,486.1 369.1,487.1 360.1,484.1 354.1,481.1 346.1,480.1 336.1,478.1 333.1,476.1 337.1,474.5 328.1,473.1 321.1,475.7 316.1,479.1 310.0,480.1 308.0,483.1 302.0,484.1Z"/>
<path d="M374.1,420.0 389.2,419.0 390.2,417.0 400.2,422.0 398.2,433.0 395.2,431.0 396.2,424.0 391.2,422.0 389.2,424.0 375.1,425.6Z"/>
<path d="M385.1,441.1 389.2,441.1 393.2,452.1 393.2,460.1 389.8,460.1 387.2,454.1 381.7,449.1 383.1,445.1Z"/>
<path d="M382.1,529.8 385.1,527.2 394.2,526.6 404.2,529.2 410.2,533.2 408.2,535.8 402.2,535.2 396.2,537.8 389.2,536.2 384.1,532.2Z"/>
<path d="M446.2,509.8 454.2,509.2 467.3,510.6 472.3,509.2 480.3,509.2 488.3,511.2 493.3,517.2 499.3,517.2 501.3,520.2 505.3,521.2 512.3,525.8 506.3,531.2 498.3,528.2 488.3,531.2 485.3,528.2 480.3,528.2 477.3,531.2 474.3,536.2 471.3,538.6 467.3,534.2 460.3,531.2 454.2,530.2 444.2,531.2 439.2,533.2 432.2,528.2 433.2,525.2 444.2,526.6 456.2,527.2 459.3,525.2 455.2,520.2 453.2,515.2 448.2,513.2 445.8,511.8Z"/>
<path d="M524.7,528.2 527.3,526.6 538.4,526.6 545.4,528.2 546.8,530.6 543.4,533.8 534.4,534.6 525.3,534.6Z"/>
<path d="M596.4,627.1 607.4,625.1 607.4,634.1 595.4,635.1Z"/>
<path d="M1263.1,385.0 1256.5,390.8 1248.2,395.0 1239.8,402.5 1228.2,404.1 1220.7,409.9 1213.2,421.6 1204.1,427.4 1199.1,435.7 1198.2,443.2 1194.9,449.9 1189.1,454.1 1182.4,462.4 1180.3,469.9 1180.8,474.0 1176.6,480.7 1171.6,484.0 1170.8,489.8 1169.9,494.8 1174.9,498.2 1179.1,503.2 1180.8,508.1 1179.1,513.1 1181.6,523.1 1181.6,520.0 1183.2,531.7 1180.8,545.0 1177.4,550.8 1177.9,557.5 1173.3,566.6 1168.3,573.3 1162.9,575.8 1168.3,579.9 1172.4,586.6 1174.9,592.4 1173.6,596.6 1175.8,604.9 1179.1,610.7 1183.2,616.5 1188.2,619.0 1196.6,624.9 1199.9,627.4 1202.4,633.2 1209.9,639.0 1216.5,646.5 1220.7,651.5 1221.5,658.1 1224.9,664.8 1233.2,672.3 1243.2,677.3 1248.2,681.0 1263.1,692.3"/>
</g>
<g stroke="#808080" stroke-width="1.8" stroke-dasharray="1.75 2.66" fill="none" opacity="0.56">
<line x1="361.3" y1="122.0" x2="361.3" y2="829.9"/>
<line x1="618.7" y1="122.0" x2="618.7" y2="829.9"/>
<line x1="876.0" y1="122.0" x2="876.0" y2="829.9"/>
<line x1="1133.3" y1="122.0" x2="1133.3" y2="829.9"/>
<line x1="104.0" y1="765.5" x2="1262.0" y2="765.5"/>
<line x1="104.0" y1="636.8" x2="1262.0" y2="636.8"/>
<line x1="104.0" y1="508.1" x2="1262.0" y2="508.1"/>
<line x1="104.0" y1="379.4" x2="1262.0" y2="379.4"/>
<line x1="104.0" y1="250.7" x2="1262.0" y2="250.7"/>
</g>
</g>
<rect x="104.0" y="122.0" width="1158.0" height="707.9" fill="none" stroke="#000" stroke-width="2.2"/>
<text x="335.2" y="99.8" font-size="35.32" text-anchor="start" fill="#000" textLength="695.1" lengthAdjust="spacingAndGlyphs">Pangu-ECMWF – Day 1 (10m Wind Speed)</text>
<text x="21.0" y="258.8" font-size="29.43" text-anchor="start" fill="#000" textLength="67.2" lengthAdjust="spacingAndGlyphs">40°N</text>
<text x="21.0" y="387.5" font-size="29.43" text-anchor="start" fill="#000" textLength="67.2" lengthAdjust="spacingAndGlyphs">30°N</text>
<text x="21.0" y="516.2" font-size="29.43" text-anchor="start" fill="#000" textLength="67.2" lengthAdjust="spacingAndGlyphs">20°N</text>
<text x="21.0" y="644.9" font-size="29.43" text-anchor="start" fill="#000" textLength="67.2" lengthAdjust="spacingAndGlyphs">10°N</text>
<text x="59.1" y="773.6" font-size="29.43" text-anchor="start" fill="#000" textLength="28.3" lengthAdjust="spacingAndGlyphs">0°</text>
<text x="324.4" y="865.4" font-size="29.43" text-anchor="start" fill="#000" textLength="73.2" lengthAdjust="spacingAndGlyphs">80°W</text>
<text x="581.7" y="865.4" font-size="29.43" text-anchor="start" fill="#000" textLength="73.2" lengthAdjust="spacingAndGlyphs">60°W</text>
<text x="839.0" y="865.4" font-size="29.43" text-anchor="start" fill="#000" textLength="73.2" lengthAdjust="spacingAndGlyphs">40°W</text>
<text x="1096.4" y="865.4" font-size="29.43" text-anchor="start" fill="#000" textLength="73.2" lengthAdjust="spacingAndGlyphs">20°W</text>
<text x="348.5" y="905.0" font-size="26.49" text-anchor="start" fill="#333333" textLength="668.7" lengthAdjust="spacingAndGlyphs">Max: 34 kt @ 15.2°N, 95.2°W • Valid 2025-11-03 12Z</text>
<rect x="1289.3" y="62.9" width="45.9" height="868.8" fill="url(#cb)"/>
<path d="M1289.3,63.4 L1312.2,19.3 L1335.2,63.4 Z" fill="#7a0403"/>
<path d="M1289.3,931.7 L1289.3,62.9 L1312.2,19.3 L1335.2,62.9 L1335.2,931.7 Z" fill="none" stroke="#000" stroke-width="2.1" stroke-linejoin="miter"/>
<line x1="1335.2" y1="62.9" x2="1345.0" y2="62.9" stroke="#000" stroke-width="2.2"/>
<text x="1355.6" y="74.0" font-size="29.43" text-anchor="start" fill="#000" textLength="51.4" lengthAdjust="spacingAndGlyphs">120</text>
<line x1="1335.2" y1="213.0" x2="1345.0" y2="213.0" stroke="#000" stroke-width="2.2"/>
<text x="1355.6" y="224.1" font-size="29.43" text-anchor="start" fill="#000" textLength="51.4" lengthAdjust="spacingAndGlyphs">100</text>
<line x1="1335.2" y1="368.9" x2="1345.0" y2="368.9" stroke="#000" stroke-width="2.2"/>
<text x="1356.5" y="380.0" font-size="29.43" text-anchor="start" fill="#000" textLength="34.0" lengthAdjust="spacingAndGlyphs">80</text>
<line x1="1335.2" y1="532.9" x2="1345.0" y2="532.9" stroke="#000" stroke-width="2.2"/>
<text x="1356.5" y="544.0" font-size="29.43" text-anchor="start" fill="#000" textLength="34.0" lengthAdjust="spacingAndGlyphs">60</text>
<line x1="1335.2" y1="710.6" x2="1345.0" y2="710.6" stroke="#000" stroke-width="2.2"/>
<text x="1356.5" y="721.7" font-size="29.43" text-anchor="start" fill="#000" textLength="34.0" lengthAdjust="spacingAndGlyphs">40</text>
<line x1="1335.2" y1="931.7" x2="1345.0" y2="931.7" stroke="#000" stroke-width="2.2"/>
<text x="1356.5" y="942.8" font-size="29.43" text-anchor="start" fill="#000" textLength="34.0" lengthAdjust="spacingAndGlyphs">20</text>
<text transform="translate(1440.0,668.7) rotate(-90)" font-size="29.43" text-anchor="start" fill="#000" textLength="341.03" lengthAdjust="spacingAndGlyphs">10m Wind Speed (knots)</text>
</svg>
</body></html>
